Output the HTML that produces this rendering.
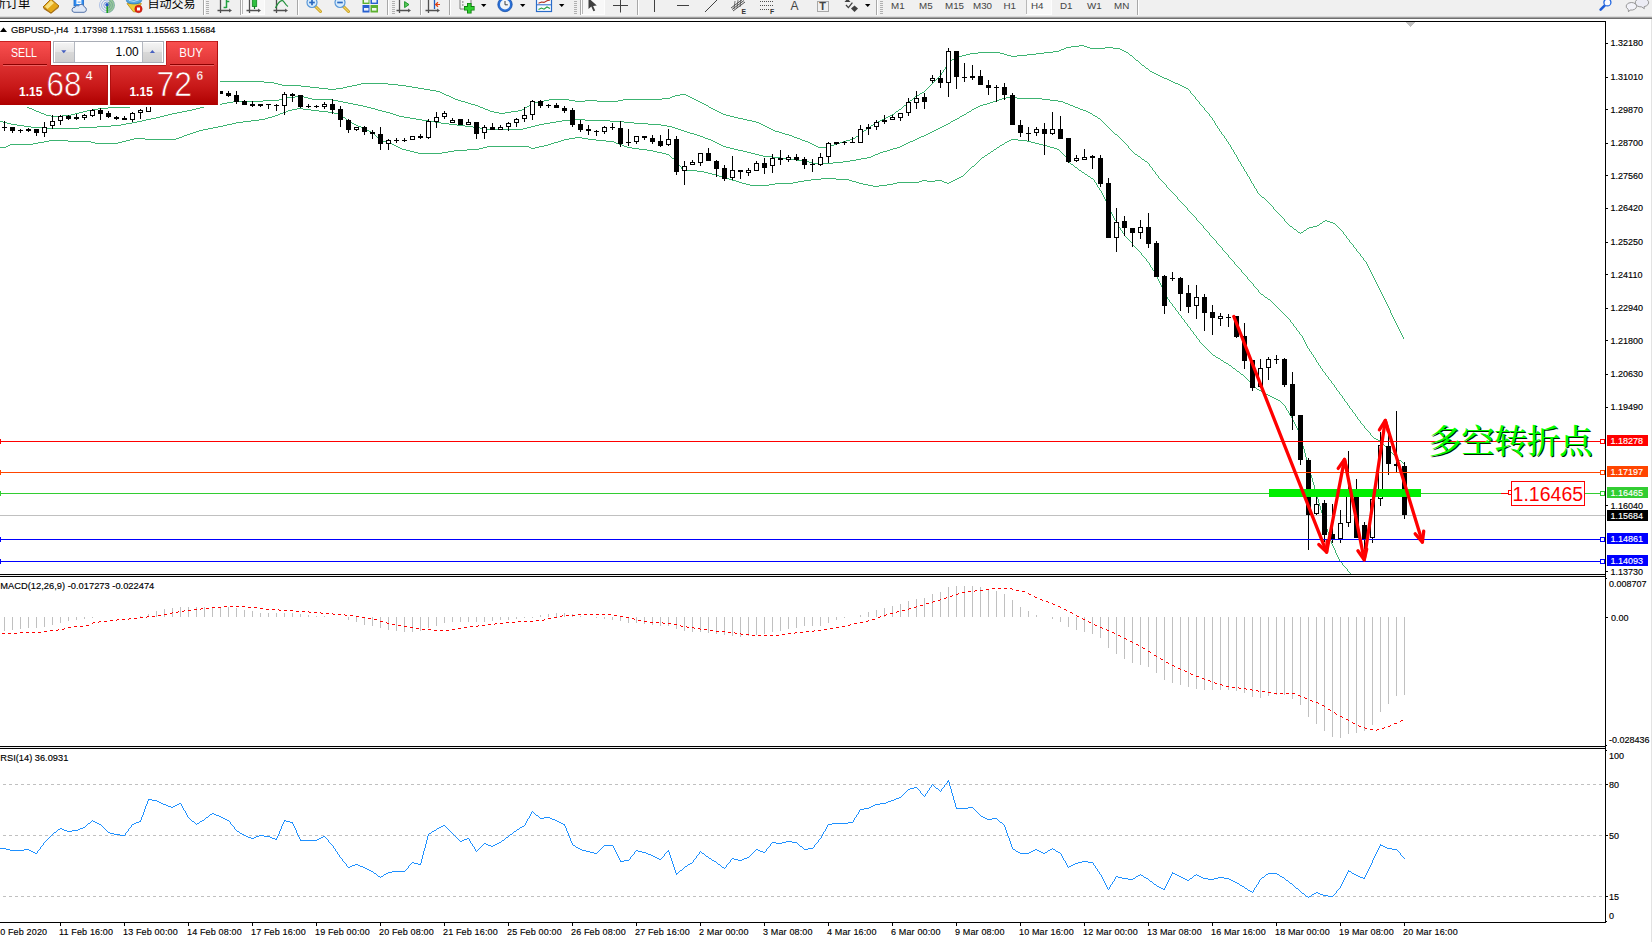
<!DOCTYPE html>
<html lang="zh"><head><meta charset="utf-8"><title>GBPUSD-,H4</title>
<style>
html,body{margin:0;padding:0;background:#fff;}
body{width:1652px;height:942px;overflow:hidden;position:relative;font-family:"Liberation Sans", sans-serif;}
svg{position:absolute;left:0;top:0;display:block}
</style></head><body>
<svg width="1652" height="942" viewBox="0 0 1652 942">
<g id="toolbar">
<g shape-rendering="crispEdges">
<rect x="0" y="0" width="1652" height="17" fill="#f0f0f0"/>
<rect x="0" y="16" width="1652" height="1" fill="#dadada"/>
<rect x="0" y="17" width="1652" height="1" fill="#a0a0a0"/>
<rect x="0" y="18" width="1652" height="1" fill="#6e6e6e"/>
<rect x="242" y="0" width="23" height="15" fill="#f8f8f8"/>
<rect x="242" y="0" width="1" height="15" fill="#b8b8b8"/>
<rect x="264" y="0" width="1" height="15" fill="#fdfdfd"/>
<rect x="242" y="14" width="23" height="1" fill="#fdfdfd"/>
<rect x="582" y="0" width="23" height="15" fill="#f8f8f8"/>
<rect x="582" y="0" width="1" height="15" fill="#b8b8b8"/>
<rect x="604" y="0" width="1" height="15" fill="#fdfdfd"/>
<rect x="582" y="14" width="23" height="1" fill="#fdfdfd"/>
<rect x="1026" y="0" width="26" height="15" fill="#f8f8f8"/>
<rect x="1026" y="0" width="1" height="15" fill="#b8b8b8"/>
<rect x="1051" y="0" width="1" height="15" fill="#fdfdfd"/>
<rect x="1026" y="14" width="26" height="1" fill="#fdfdfd"/>
<rect x="203" y="0" width="1" height="15" fill="#a8a8a8"/>
<rect x="204" y="0" width="1" height="15" fill="#ffffff"/>
<rect x="240" y="0" width="1" height="15" fill="#a8a8a8"/>
<rect x="241" y="0" width="1" height="15" fill="#ffffff"/>
<rect x="297" y="0" width="1" height="15" fill="#a8a8a8"/>
<rect x="298" y="0" width="1" height="15" fill="#ffffff"/>
<rect x="387" y="0" width="1" height="15" fill="#a8a8a8"/>
<rect x="388" y="0" width="1" height="15" fill="#ffffff"/>
<rect x="420" y="0" width="1" height="15" fill="#a8a8a8"/>
<rect x="421" y="0" width="1" height="15" fill="#ffffff"/>
<rect x="449" y="0" width="1" height="15" fill="#a8a8a8"/>
<rect x="450" y="0" width="1" height="15" fill="#ffffff"/>
<rect x="580" y="0" width="1" height="15" fill="#a8a8a8"/>
<rect x="581" y="0" width="1" height="15" fill="#ffffff"/>
<rect x="637" y="0" width="1" height="15" fill="#a8a8a8"/>
<rect x="638" y="0" width="1" height="15" fill="#ffffff"/>
<rect x="876" y="0" width="1" height="15" fill="#a8a8a8"/>
<rect x="877" y="0" width="1" height="15" fill="#ffffff"/>
<rect x="1137" y="0" width="1" height="15" fill="#a8a8a8"/>
<rect x="1138" y="0" width="1" height="15" fill="#ffffff"/>
<rect x="206" y="1" width="3" height="1" fill="#b0b0b0"/>
<rect x="206" y="3" width="3" height="1" fill="#b0b0b0"/>
<rect x="206" y="5" width="3" height="1" fill="#b0b0b0"/>
<rect x="206" y="7" width="3" height="1" fill="#b0b0b0"/>
<rect x="206" y="9" width="3" height="1" fill="#b0b0b0"/>
<rect x="206" y="11" width="3" height="1" fill="#b0b0b0"/>
<rect x="206" y="13" width="3" height="1" fill="#b0b0b0"/>
<rect x="392" y="1" width="3" height="1" fill="#b0b0b0"/>
<rect x="392" y="3" width="3" height="1" fill="#b0b0b0"/>
<rect x="392" y="5" width="3" height="1" fill="#b0b0b0"/>
<rect x="392" y="7" width="3" height="1" fill="#b0b0b0"/>
<rect x="392" y="9" width="3" height="1" fill="#b0b0b0"/>
<rect x="392" y="11" width="3" height="1" fill="#b0b0b0"/>
<rect x="392" y="13" width="3" height="1" fill="#b0b0b0"/>
<rect x="574" y="1" width="3" height="1" fill="#b0b0b0"/>
<rect x="574" y="3" width="3" height="1" fill="#b0b0b0"/>
<rect x="574" y="5" width="3" height="1" fill="#b0b0b0"/>
<rect x="574" y="7" width="3" height="1" fill="#b0b0b0"/>
<rect x="574" y="9" width="3" height="1" fill="#b0b0b0"/>
<rect x="574" y="11" width="3" height="1" fill="#b0b0b0"/>
<rect x="574" y="13" width="3" height="1" fill="#b0b0b0"/>
<rect x="880" y="1" width="3" height="1" fill="#b0b0b0"/>
<rect x="880" y="3" width="3" height="1" fill="#b0b0b0"/>
<rect x="880" y="5" width="3" height="1" fill="#b0b0b0"/>
<rect x="880" y="7" width="3" height="1" fill="#b0b0b0"/>
<rect x="880" y="9" width="3" height="1" fill="#b0b0b0"/>
<rect x="880" y="11" width="3" height="1" fill="#b0b0b0"/>
<rect x="880" y="13" width="3" height="1" fill="#b0b0b0"/>
</g>
<g font-family='"Liberation Sans", "Noto Sans CJK SC", sans-serif' fill="#000">
<text x="-6.5" y="8.2" font-size="12.3">新订单</text>
<text x="147.5" y="8.2" font-size="12">自动交易</text>
</g>
<g font-family='"Liberation Sans", "Noto Sans CJK SC", sans-serif' fill="#444" font-size="9.8">
<text x="891" y="9">M1</text>
<text x="919" y="9">M5</text>
<text x="945" y="9">M15</text>
<text x="973" y="9">M30</text>
<text x="1003.5" y="9">H1</text>
<text x="1031" y="9">H4</text>
<text x="1060" y="9">D1</text>
<text x="1087" y="9">W1</text>
<text x="1114" y="9">MN</text>
</g>
<polygon points="43,7 51,-1 59,6 51,13" fill="#e4a818" stroke="#a06c10" stroke-width="1"/>
<polygon points="45,6.5 51,0.5 54,3 47.5,9" fill="#f8e080"/>
<polygon points="43.6,7.6 51,13 59,6.2 58.4,8 51,13.8 43.6,9" fill="#a86c10"/>
<rect x="74" y="-2" width="9.6" height="8" fill="#2e8cf0" stroke="#1c68c8" stroke-width="0.8"/>
<rect x="76.4" y="-1" width="5" height="5" fill="#fff"/>
<rect x="77.6" y="1.6" width="3" height="1" fill="#4a98f0"/>
<path d="M74,12.3 h10 a2.7,2.7 0 0 0 0.4,-5.3 a3.2,3.2 0 0 0 -5.8,-1.2 a2.7,2.7 0 0 0 -3.6,1.6 a2.5,2.5 0 0 0 -1,4.9z" fill="#dfe8f6" stroke="#5674a8" stroke-width="1"/>
<g fill="none" stroke="#5a86d8"><circle cx="107" cy="5.2" r="3.2" stroke-width="1" opacity="0.75"/><circle cx="107" cy="5.2" r="5.4" stroke-width="1" opacity="0.6"/><circle cx="107" cy="5.2" r="7.5" stroke-width="1" opacity="0.45"/></g>
<path d="M107,5.2 L107,13 A7.8,7.8 0 0 0 114.8,5.2 A7.8,7.8 0 0 0 110.5,-1.7 Z" fill="#58a858" opacity="0.55"/>
<path d="M107.2,5.2 V13" stroke="#18a018" stroke-width="1.5"/>
<circle cx="107" cy="4.8" r="1.7" fill="#2858c8"/>
<path d="M127,3.6 h14.4 l-5,8.2 h-3z" fill="#f0cc38" stroke="#b88c10" stroke-width="0.8"/>
<ellipse cx="134" cy="0.6" rx="7.6" ry="3.3" fill="#58a8e0" stroke="#2a78b8" stroke-width="0.8"/>
<path d="M129,0.4 q5,2.4 10,-0.6" stroke="#b8dcf4" stroke-width="1" fill="none"/>
<circle cx="138.5" cy="9" r="3.7" fill="#e02414" stroke="#a81008" stroke-width="0.5"/>
<rect x="137" y="7.5" width="3" height="3" fill="#fff"/>
<g stroke="#505050" stroke-width="1.3" fill="none"><path d="M220.5,13 V-3 M217.5,10.5 H230"/><path d="M229,8.9 l2.5,1.6 l-2.5,1.6" fill="#505050" stroke-width="0.6"/></g>
<path d="M226.5,-2 V8 M226.5,1.5 h2.8 M223.6,7.5 h2.9" stroke="#20a040" stroke-width="1.5" fill="none"/>
<g stroke="#505050" stroke-width="1.3" fill="none"><path d="M249.5,13 V-3 M246.5,10.5 H259"/><path d="M258,8.9 l2.5,1.6 l-2.5,1.6" fill="#505050" stroke-width="0.6"/></g>
<rect x="252.3" y="-3" width="4.4" height="9.5" fill="#30c040" stroke="#108020" stroke-width="0.8"/><path d="M254.5,6 v3" stroke="#108020" stroke-width="1.2"/>
<g stroke="#505050" stroke-width="1.3" fill="none"><path d="M276.5,13 V-3 M273.5,10.5 H286"/><path d="M285,8.9 l2.5,1.6 l-2.5,1.6" fill="#505050" stroke-width="0.6"/></g>
<path d="M275.5,8 C279,1 282,-1 284,2 S287,6 288,6.5" stroke="#20903a" stroke-width="1.3" fill="none"/>
<path d="M315,6 l5.5,5.5" stroke="#c8a020" stroke-width="3" stroke-linecap="round"/>
<path d="M315,6 l5.5,5.5" stroke="#f0d060" stroke-width="1.2" stroke-linecap="round"/>
<circle cx="312" cy="2.5" r="5" fill="#d8ecfc" stroke="#5a98d8" stroke-width="1.2"/>
<path d="M309.2,2.5 h5.6" stroke="#2a68c0" stroke-width="1.7"/>
<path d="M312,-0.3 v5.6" stroke="#2a68c0" stroke-width="1.7"/>
<path d="M343,6 l5.5,5.5" stroke="#c8a020" stroke-width="3" stroke-linecap="round"/>
<path d="M343,6 l5.5,5.5" stroke="#f0d060" stroke-width="1.2" stroke-linecap="round"/>
<circle cx="340" cy="2.5" r="5" fill="#d8ecfc" stroke="#5a98d8" stroke-width="1.2"/>
<path d="M337.2,2.5 h5.6" stroke="#2a68c0" stroke-width="1.7"/>
<rect x="362.5" y="-2" width="7" height="6" fill="#5cb030"/><rect x="370.5" y="-2" width="7.5" height="6" fill="#2860d0"/>
<rect x="362.5" y="5" width="7" height="7.5" fill="#2860d0"/><rect x="370.5" y="5" width="7.5" height="7.5" fill="#5cb030"/>
<rect x="364" y="0" width="4.5" height="2.6" fill="#fff" opacity="0.92"/>
<rect x="372" y="0" width="4.5" height="2.6" fill="#fff" opacity="0.92"/>
<rect x="364" y="8" width="4.5" height="2.6" fill="#fff" opacity="0.92"/>
<rect x="372" y="8" width="4.5" height="2.6" fill="#fff" opacity="0.92"/>
<g stroke="#505050" stroke-width="1.3" fill="none"><path d="M399.5,13 V-3 M396.5,10.5 H409"/><path d="M408,8.9 l2.5,1.6 l-2.5,1.6" fill="#505050" stroke-width="0.6"/></g>
<polygon points="404.6,1.6 404.6,7.6 409,4.6" fill="#58c858" stroke="#109020" stroke-width="0.9"/>
<g stroke="#505050" stroke-width="1.3" fill="none"><path d="M428.5,13 V-3 M425.5,10.5 H438"/><path d="M437,8.9 l2.5,1.6 l-2.5,1.6" fill="#505050" stroke-width="0.6"/></g>
<path d="M434.5,-2 V9" stroke="#2060c0" stroke-width="1.3"/>
<path d="M440,4.5 h-4 M438,2.3 l-2.4,2.2 l2.4,2.2" stroke="#e04010" stroke-width="1.2" fill="none"/>
<path d="M460,-2 h9 l2,2 v9 h-11z" fill="#f4f4f4" stroke="#808080" stroke-width="1"/>
<path d="M462,2 h1.5 M462,5 h1.5" stroke="#606060" stroke-width="1"/>
<path d="M469.3,3 v10.6 M464,8.3 h10.6" stroke="#108010" stroke-width="4.6"/>
<path d="M469.3,3.8 v9 M464.8,8.3 h9" stroke="#30d030" stroke-width="2.8"/>
<polygon points="481,4 486.4,4 483.7,7" fill="#000"/>
<polygon points="520,4 525.4,4 522.7,7" fill="#000"/>
<polygon points="559,4 564.4,4 561.7,7" fill="#000"/>
<polygon points="865,4 870.4,4 867.7,7" fill="#000"/>
<circle cx="505" cy="4.5" r="7.2" fill="#2a70d8" stroke="#1850a8" stroke-width="0.8"/>
<circle cx="505" cy="4.5" r="5" fill="#f0f4f8"/>
<path d="M505,1 v3.8 h2.8" stroke="#404040" stroke-width="1" fill="none"/>
<rect x="536.5" y="-2.5" width="15" height="14" fill="#f8fbff" stroke="#2a6cc8" stroke-width="1.2"/>
<path d="M537,4.8 h14" stroke="#2a6cc8" stroke-width="1"/>
<path d="M538.5,3.2 l3,-1.2 l2.5,0.4 l3,-1.6 l3,-0.8" stroke="#b03020" stroke-width="1.1" fill="none"/>
<path d="M538.5,9.5 l3,-1.5 l2.5,1.2 l3,-2.2 l3,1.5" stroke="#20a040" stroke-width="1.1" fill="none"/>
<polygon points="588.5,-2 588.5,9 591.3,6.6 593.4,11.2 595.2,10.4 593.1,5.9 596.8,5.6" fill="#404040"/>
<path d="M620.5,-2 V12.5 M613,5.5 H628" stroke="#404040" stroke-width="1"/>
<path d="M654.5,-2 V12" stroke="#404040" stroke-width="1"/>
<path d="M677,5.5 H689" stroke="#404040" stroke-width="1"/>
<path d="M705,12 L717.5,-0.5" stroke="#404040" stroke-width="1"/>
<g stroke="#404040" stroke-width="0.9"><path d="M731,8 L743,-1 M733,11 L745,2 M732,9.5 L744,0.5"/><path d="M735,1 l-1,8 M738,0 l-1,8 M741,-1 l-1,8" stroke-width="0.7"/></g>
<text x="741.5" y="13.6" font-family='"Liberation Sans", "Noto Sans CJK SC", sans-serif' font-size="6.8" font-weight="700" fill="#333">E</text>
<g stroke="#505050" stroke-width="1" stroke-dasharray="1 1"><path d="M760,1.5 h14 M760,5.5 h14 M760,9.5 h10"/></g>
<text x="770" y="13.6" font-family='"Liberation Sans", "Noto Sans CJK SC", sans-serif' font-size="6.8" font-weight="700" fill="#333">F</text>
<text x="790.5" y="9.5" font-family='"Liberation Sans", "Noto Sans CJK SC", sans-serif' font-size="12" fill="#444">A</text>
<rect x="817.5" y="1.5" width="11" height="10" fill="none" stroke="#606060" stroke-width="1" stroke-dasharray="1 1"/>
<text x="819.3" y="10" font-family='"Liberation Sans", "Noto Sans CJK SC", sans-serif' font-size="11" font-weight="700" fill="#444">T</text>
<polygon points="844.5,2 847.5,-1.5 850.5,2" fill="#404040"/>
<path d="M846,5 l2.4,2.6 l4,-5" stroke="#404040" stroke-width="1.3" fill="none"/>
<polygon points="851,8.5 854.5,5.5 858,8.5 854.5,12" fill="#404040"/>
<path d="M1604.6,5.6 L1600.6,9.6" stroke="#1c5cd8" stroke-width="2.6" stroke-linecap="round"/>
<circle cx="1607.4" cy="2.4" r="3.5" fill="#fbfbff" stroke="#2468e0" stroke-width="1.3"/>
<path d="M1640.3,-1.6 a6.4,4.3 0 1 1 3.8,8.3 l0.2,2 l-2.6,-1.8 a6.4,4.3 0 0 1 -1.4,-8.5z" fill="#ececf4" stroke="#8c8c8c" stroke-width="0.9"/>
<path d="M1631.3,2.5 a5.3,3.8 0 1 1 -1.2,7.5 l-1.6,1.9 l-0.3,-2.6 a5.3,3.8 0 0 1 3.1,-6.8z" fill="#f2f2f8" stroke="#8c8c8c" stroke-width="0.9"/>
</g>
<g shape-rendering="crispEdges">
<rect x="0" y="21" width="1606" height="1" fill="#000"/>
<rect x="0" y="574" width="1606" height="1" fill="#000"/>
<rect x="0" y="576" width="1606" height="1" fill="#000"/>
<rect x="0" y="746" width="1606" height="1" fill="#000"/>
<rect x="0" y="748" width="1606" height="1" fill="#000"/>
<rect x="0" y="922" width="1606" height="1" fill="#000"/>
<rect x="1605" y="21" width="1" height="902" fill="#000"/>
<rect x="0" y="575" width="1605" height="1" fill="#f0f0f0"/>
<rect x="0" y="747" width="1605" height="1" fill="#f0f0f0"/>
<rect x="1651" y="19" width="1" height="923" fill="#e3e3e3"/>
<clipPath id="cm"><rect x="0" y="22" width="1605" height="552"/></clipPath>
<g clip-path="url(#cm)">
<path d="M0 79h1v1h-1zM1 80h1v1h-1zM2 81h1v1h-1zM3 82h1v1h-1zM4 83h1v1h-1zM5 84h1v1h-1zM6 85h1v2h-1zM7 87h1v1h-1zM8 88h1v1h-1zM9 89h1v1h-1zM10 90h1v1h-1zM11 91h1v1h-1zM12 92h1v1h-1zM13 93h1v1h-1zM14 94h1v1h-1zM15 95h1v1h-1zM16 96h1v1h-1zM17 97h1v1h-1zM18 98h1v1h-1zM19 99h1v2h-1zM20 101h1v1h-1zM21 102h1v1h-1zM22 103h1v1h-1zM23 104h1v1h-1zM24 105h1v1h-1zM25 106h2v1h-2zM27 107h2v1h-2zM29 108h3v1h-3zM32 109h2v1h-2zM34 110h2v1h-2zM36 111h3v1h-3zM39 112h2v1h-2zM41 113h3v1h-3zM44 114h2v1h-2zM46 115h5v1h-5zM51 116h11v1h-11zM62 115h9v1h-9zM71 114h4v1h-4zM75 113h4v1h-4zM79 112h4v1h-4zM83 111h4v1h-4zM87 110h5v1h-5zM92 109h6v1h-6zM98 108h10v1h-10zM108 107h22v1h-22zM130 106h2v1h-2zM132 105h3v1h-3zM135 104h2v1h-2zM137 103h3v1h-3zM140 102h2v1h-2zM142 101h3v1h-3zM145 100h2v1h-2zM147 99h3v1h-3zM150 98h2v1h-2zM152 97h3v1h-3zM155 96h3v1h-3zM158 95h3v1h-3zM161 94h3v1h-3zM164 93h3v1h-3zM167 92h3v1h-3zM170 91h3v1h-3zM173 90h2v1h-2zM175 89h3v1h-3zM178 88h3v1h-3zM181 87h3v1h-3zM184 86h3v1h-3zM187 85h3v1h-3zM190 84h3v1h-3zM193 83h8v1h-8zM201 82h13v1h-13zM214 81h50v1h-50zM264 82h10v1h-10zM274 83h4v1h-4zM278 84h4v1h-4zM282 85h19v1h-19zM301 86h9v1h-9zM310 87h9v1h-9zM319 88h9v1h-9zM328 89h8v1h-8zM336 88h7v1h-7zM343 87h4v1h-4zM347 86h5v1h-5zM352 85h5v1h-5zM357 84h4v1h-4zM361 83h27v1h-27zM388 84h10v1h-10zM398 85h8v1h-8zM406 86h6v1h-6zM412 87h6v1h-6zM418 88h6v1h-6zM424 89h6v1h-6zM430 90h6v1h-6zM436 91h4v1h-4zM440 92h2v1h-2zM442 93h2v1h-2zM444 94h2v1h-2zM446 95h3v1h-3zM449 96h2v1h-2zM451 97h2v1h-2zM453 98h2v1h-2zM455 99h3v1h-3zM458 100h3v1h-3zM461 101h4v1h-4zM465 102h3v1h-3zM468 103h3v1h-3zM471 104h4v1h-4zM475 105h3v1h-3zM478 106h2v1h-2zM480 107h3v1h-3zM483 108h2v1h-2zM485 109h3v1h-3zM488 110h2v1h-2zM490 111h4v1h-4zM494 112h5v1h-5zM499 113h6v1h-6zM505 112h6v1h-6zM511 111h7v1h-7zM518 110h4v1h-4zM522 109h2v1h-2zM524 108h1v1h-1zM525 107h2v1h-2zM527 106h2v1h-2zM529 105h1v1h-1zM530 104h2v1h-2zM532 103h3v1h-3zM535 102h4v1h-4zM539 101h5v1h-5zM544 100h5v1h-5zM549 99h20v1h-20zM569 100h6v1h-6zM575 101h10v1h-10zM585 100h12v1h-12zM597 101h21v1h-21zM618 100h5v1h-5zM623 99h39v1h-39zM662 98h8v1h-8zM670 97h2v1h-2zM672 96h3v1h-3zM675 95h5v1h-5zM680 94h6v1h-6zM686 95h2v1h-2zM688 96h2v1h-2zM690 97h2v1h-2zM692 98h2v1h-2zM694 99h2v1h-2zM696 100h2v1h-2zM698 101h2v1h-2zM700 102h2v1h-2zM702 103h2v1h-2zM704 104h2v1h-2zM706 105h2v1h-2zM708 106h1v1h-1zM709 107h2v1h-2zM711 108h2v1h-2zM713 109h2v1h-2zM715 110h2v1h-2zM717 111h2v1h-2zM719 112h2v1h-2zM721 113h2v1h-2zM723 114h3v1h-3zM726 115h4v1h-4zM730 116h4v1h-4zM734 117h4v1h-4zM738 118h5v1h-5zM743 119h4v1h-4zM747 120h5v1h-5zM752 121h4v1h-4zM756 122h3v1h-3zM759 123h2v1h-2zM761 124h2v1h-2zM763 125h2v1h-2zM765 126h2v1h-2zM767 127h2v1h-2zM769 128h2v1h-2zM771 129h2v1h-2zM773 130h2v1h-2zM775 131h4v1h-4zM779 132h3v1h-3zM782 133h3v1h-3zM785 134h4v1h-4zM789 135h3v1h-3zM792 136h2v1h-2zM794 137h3v1h-3zM797 138h3v1h-3zM800 139h2v1h-2zM802 140h3v1h-3zM805 141h3v1h-3zM808 142h2v1h-2zM810 143h2v1h-2zM812 144h2v1h-2zM814 145h2v1h-2zM816 146h2v1h-2zM818 147h9v1h-9zM827 146h3v1h-3zM830 145h4v1h-4zM834 144h3v1h-3zM837 143h3v1h-3zM840 142h3v1h-3zM843 141h3v1h-3zM846 140h4v1h-4zM850 139h3v1h-3zM853 138h2v1h-2zM855 137h1v1h-1zM856 136h2v1h-2zM858 135h1v1h-1zM859 134h1v1h-1zM860 133h2v1h-2zM862 132h1v1h-1zM863 131h1v1h-1zM864 130h2v1h-2zM866 129h1v1h-1zM867 128h2v1h-2zM869 127h1v1h-1zM870 126h1v1h-1zM871 125h2v1h-2zM873 124h1v1h-1zM874 123h2v1h-2zM876 122h2v1h-2zM878 121h2v1h-2zM880 120h2v1h-2zM882 119h2v1h-2zM884 118h2v1h-2zM886 117h2v1h-2zM888 116h2v1h-2zM890 115h2v1h-2zM892 114h2v1h-2zM894 113h1v1h-1zM895 112h1v1h-1zM896 111h2v1h-2zM898 110h1v1h-1zM899 109h2v1h-2zM901 108h1v1h-1zM902 107h1v1h-1zM903 106h1v1h-1zM904 105h2v1h-2zM906 104h1v1h-1zM907 103h1v1h-1zM908 102h1v1h-1zM909 101h1v1h-1zM910 100h2v1h-2zM912 99h1v1h-1zM913 98h1v1h-1zM914 97h1v1h-1zM915 96h2v1h-2zM917 95h2v1h-2zM919 94h1v1h-1zM920 93h2v1h-2zM922 92h2v1h-2zM924 91h1v1h-1zM925 90h1v1h-1zM926 89h1v1h-1zM927 88h1v1h-1zM928 87h1v1h-1zM929 86h1v1h-1zM930 85h1v1h-1zM931 84h1v1h-1zM932 83h1v1h-1zM933 82h1v1h-1zM934 81h1v1h-1zM935 80h1v1h-1zM936 79h1v1h-1zM937 78h1v1h-1zM938 77h1v1h-1zM939 76h1v1h-1zM940 75h1v1h-1zM941 73h1v2h-1zM942 72h1v1h-1zM943 70h1v2h-1zM944 69h1v1h-1zM945 67h1v2h-1zM946 66h1v1h-1zM947 65h1v1h-1zM948 64h1v1h-1zM949 62h1v2h-1zM950 61h1v1h-1zM951 60h1v1h-1zM952 59h2v1h-2zM954 58h3v1h-3zM957 57h2v1h-2zM959 56h3v1h-3zM962 55h4v1h-4zM966 54h4v1h-4zM970 53h8v1h-8zM978 52h22v1h-22zM1000 53h4v1h-4zM1004 54h3v1h-3zM1007 55h4v1h-4zM1011 56h6v1h-6zM1017 55h10v1h-10zM1027 54h9v1h-9zM1036 53h8v1h-8zM1044 52h9v1h-9zM1053 51h6v1h-6zM1059 50h2v1h-2zM1061 49h3v1h-3zM1064 48h2v1h-2zM1066 47h5v1h-5zM1071 46h8v1h-8zM1079 45h5v1h-5zM1084 46h3v1h-3zM1087 47h3v1h-3zM1090 48h15v1h-15zM1105 47h8v1h-8zM1113 48h7v1h-7zM1120 49h2v1h-2zM1122 50h2v1h-2zM1124 51h2v1h-2zM1126 52h2v1h-2zM1128 53h1v1h-1zM1129 54h1v1h-1zM1130 55h2v1h-2zM1132 56h1v1h-1zM1133 57h1v1h-1zM1134 58h1v1h-1zM1135 59h1v1h-1zM1136 60h2v1h-2zM1138 61h1v1h-1zM1139 62h1v1h-1zM1140 63h1v1h-1zM1141 64h1v1h-1zM1142 65h2v1h-2zM1144 66h1v1h-1zM1145 67h1v1h-1zM1146 68h2v1h-2zM1148 69h1v1h-1zM1149 70h1v1h-1zM1150 71h2v1h-2zM1152 72h2v1h-2zM1154 73h2v1h-2zM1156 74h2v1h-2zM1158 75h2v1h-2zM1160 76h2v1h-2zM1162 77h2v1h-2zM1164 78h3v1h-3zM1167 79h2v1h-2zM1169 80h2v1h-2zM1171 81h2v1h-2zM1173 82h2v1h-2zM1175 83h3v1h-3zM1178 84h2v1h-2zM1180 85h2v1h-2zM1182 86h2v1h-2zM1184 87h2v1h-2zM1186 88h2v1h-2zM1188 89h1v1h-1zM1189 90h1v1h-1zM1190 91h1v2h-1zM1191 93h1v1h-1zM1192 94h1v1h-1zM1193 95h1v1h-1zM1194 96h1v1h-1zM1195 97h1v2h-1zM1196 99h1v1h-1zM1197 100h1v1h-1zM1198 101h1v1h-1zM1199 102h1v2h-1zM1200 104h1v1h-1zM1201 105h1v1h-1zM1202 106h1v1h-1zM1203 107h1v1h-1zM1204 108h1v2h-1zM1205 110h1v1h-1zM1206 111h1v1h-1zM1207 112h1v1h-1zM1208 113h1v1h-1zM1209 114h1v2h-1zM1210 116h1v1h-1zM1211 117h1v1h-1zM1212 118h1v2h-1zM1213 120h1v1h-1zM1214 121h1v2h-1zM1215 123h1v2h-1zM1216 125h1v1h-1zM1217 126h1v2h-1zM1218 128h1v1h-1zM1219 129h1v2h-1zM1220 131h1v1h-1zM1221 132h1v2h-1zM1222 134h1v1h-1zM1223 135h1v1h-1zM1224 136h1v2h-1zM1225 138h1v1h-1zM1226 139h1v2h-1zM1227 141h1v1h-1zM1228 142h1v2h-1zM1229 144h1v1h-1zM1230 145h1v2h-1zM1231 147h1v2h-1zM1232 149h1v1h-1zM1233 150h1v2h-1zM1234 152h1v2h-1zM1235 154h1v1h-1zM1236 155h1v2h-1zM1237 157h1v2h-1zM1238 159h1v2h-1zM1239 161h1v1h-1zM1240 162h1v2h-1zM1241 164h1v2h-1zM1242 166h1v1h-1zM1243 167h1v2h-1zM1244 169h1v2h-1zM1245 171h1v1h-1zM1246 172h1v2h-1zM1247 174h1v2h-1zM1248 176h1v1h-1zM1249 177h1v2h-1zM1250 179h1v2h-1zM1251 181h1v2h-1zM1252 183h1v1h-1zM1253 184h1v2h-1zM1254 186h1v2h-1zM1255 188h1v1h-1zM1256 189h1v2h-1zM1257 191h1v2h-1zM1258 193h1v1h-1zM1259 194h1v1h-1zM1260 195h1v1h-1zM1261 196h1v1h-1zM1262 197h2v1h-2zM1264 198h1v1h-1zM1265 199h1v1h-1zM1266 200h1v1h-1zM1267 201h1v1h-1zM1268 202h1v1h-1zM1269 203h1v1h-1zM1270 204h1v1h-1zM1271 205h1v1h-1zM1272 206h1v1h-1zM1273 207h1v2h-1zM1274 209h1v1h-1zM1275 210h1v1h-1zM1276 211h1v1h-1zM1277 212h1v1h-1zM1278 213h1v1h-1zM1279 214h1v1h-1zM1280 215h1v1h-1zM1281 216h1v1h-1zM1282 217h1v1h-1zM1283 218h1v1h-1zM1284 219h1v2h-1zM1285 221h1v1h-1zM1286 222h1v1h-1zM1287 223h1v1h-1zM1288 224h1v1h-1zM1289 225h1v1h-1zM1290 226h2v1h-2zM1292 227h1v1h-1zM1293 228h1v1h-1zM1294 229h2v1h-2zM1296 230h1v1h-1zM1297 231h1v1h-1zM1298 232h2v1h-2zM1300 233h1v1h-1zM1301 232h2v1h-2zM1303 231h1v1h-1zM1304 230h2v1h-2zM1306 229h1v1h-1zM1307 228h2v1h-2zM1309 227h4v1h-4zM1313 226h4v1h-4zM1317 225h2v1h-2zM1319 224h1v1h-1zM1320 223h2v1h-2zM1322 222h1v1h-1zM1323 221h2v1h-2zM1325 220h2v1h-2zM1327 221h3v1h-3zM1330 222h3v1h-3zM1333 223h2v1h-2zM1335 224h1v1h-1zM1336 225h1v1h-1zM1337 226h1v1h-1zM1338 227h1v1h-1zM1339 228h1v1h-1zM1340 229h1v1h-1zM1341 230h1v1h-1zM1342 231h1v1h-1zM1343 232h1v2h-1zM1344 234h1v1h-1zM1345 235h1v1h-1zM1346 236h1v2h-1zM1347 238h1v1h-1zM1348 239h1v1h-1zM1349 240h1v2h-1zM1350 242h1v1h-1zM1351 243h1v1h-1zM1352 244h1v1h-1zM1353 245h1v2h-1zM1354 247h1v1h-1zM1355 248h1v1h-1zM1356 249h1v2h-1zM1357 251h1v1h-1zM1358 252h1v1h-1zM1359 253h1v1h-1zM1360 254h1v2h-1zM1361 256h1v1h-1zM1362 257h1v1h-1zM1363 258h1v2h-1zM1364 260h1v1h-1zM1365 261h1v1h-1zM1366 262h1v2h-1zM1367 264h1v2h-1zM1368 266h1v2h-1zM1369 268h1v2h-1zM1370 270h1v2h-1zM1371 272h1v2h-1zM1372 274h1v2h-1zM1373 276h1v2h-1zM1374 278h1v2h-1zM1375 280h1v2h-1zM1376 282h1v2h-1zM1377 284h1v2h-1zM1378 286h1v2h-1zM1379 288h1v2h-1zM1380 290h1v2h-1zM1381 292h1v2h-1zM1382 294h1v2h-1zM1383 296h1v2h-1zM1384 298h1v2h-1zM1385 300h1v2h-1zM1386 302h1v2h-1zM1387 304h1v2h-1zM1388 306h1v2h-1zM1389 308h1v2h-1zM1390 310h1v3h-1zM1391 313h1v2h-1zM1392 315h1v2h-1zM1393 317h1v2h-1zM1394 319h1v2h-1zM1395 321h1v2h-1zM1396 323h1v2h-1zM1397 325h1v2h-1zM1398 327h1v2h-1zM1399 329h1v2h-1zM1400 331h1v2h-1zM1401 333h1v2h-1zM1402 335h1v2h-1zM1403 337h1v2h-1z" fill="#3cb371" />
<path d="M0 121h3v1h-3zM3 122h4v1h-4zM7 123h4v1h-4zM11 124h6v1h-6zM17 125h7v1h-7zM24 126h7v1h-7zM31 127h12v1h-12zM43 128h36v1h-36zM79 127h18v1h-18zM97 126h14v1h-14zM111 125h10v1h-10zM121 124h5v1h-5zM126 123h6v1h-6zM132 122h5v1h-5zM137 121h5v1h-5zM142 120h4v1h-4zM146 119h5v1h-5zM151 118h5v1h-5zM156 117h4v1h-4zM160 116h4v1h-4zM164 115h4v1h-4zM168 114h4v1h-4zM172 113h5v1h-5zM177 112h5v1h-5zM182 111h5v1h-5zM187 110h5v1h-5zM192 109h4v1h-4zM196 108h4v1h-4zM200 107h4v1h-4zM204 106h6v1h-6zM210 105h6v1h-6zM216 104h6v1h-6zM222 103h5v1h-5zM227 102h6v1h-6zM233 101h30v1h-30zM263 100h16v1h-16zM279 99h4v1h-4zM283 98h4v1h-4zM287 97h8v1h-8zM295 96h9v1h-9zM304 97h4v1h-4zM308 98h4v1h-4zM312 99h20v1h-20zM332 100h6v1h-6zM338 101h5v1h-5zM343 102h5v1h-5zM348 103h5v1h-5zM353 104h5v1h-5zM358 105h5v1h-5zM363 106h4v1h-4zM367 107h4v1h-4zM371 108h4v1h-4zM375 109h3v1h-3zM378 110h4v1h-4zM382 111h4v1h-4zM386 112h4v1h-4zM390 113h3v1h-3zM393 114h3v1h-3zM396 115h3v1h-3zM399 116h5v1h-5zM404 117h6v1h-6zM410 118h6v1h-6zM416 119h6v1h-6zM422 120h7v1h-7zM429 121h6v1h-6zM435 122h6v1h-6zM441 123h8v1h-8zM449 124h8v1h-8zM457 125h8v1h-8zM465 126h8v1h-8zM473 127h7v1h-7zM480 128h6v1h-6zM486 129h37v1h-37zM523 128h4v1h-4zM527 127h4v1h-4zM531 126h4v1h-4zM535 125h4v1h-4zM539 124h5v1h-5zM544 123h6v1h-6zM550 122h6v1h-6zM556 121h6v1h-6zM562 120h10v1h-10zM572 119h13v1h-13zM585 120h25v1h-25zM610 121h14v1h-14zM624 122h10v1h-10zM634 123h14v1h-14zM648 124h13v1h-13zM661 125h6v1h-6zM667 126h5v1h-5zM672 127h3v1h-3zM675 128h3v1h-3zM678 129h3v1h-3zM681 130h3v1h-3zM684 131h3v1h-3zM687 132h3v1h-3zM690 133h4v1h-4zM694 134h3v1h-3zM697 135h3v1h-3zM700 136h3v1h-3zM703 137h2v1h-2zM705 138h3v1h-3zM708 139h3v1h-3zM711 140h2v1h-2zM713 141h2v1h-2zM715 142h2v1h-2zM717 143h2v1h-2zM719 144h2v1h-2zM721 145h2v1h-2zM723 146h3v1h-3zM726 147h4v1h-4zM730 148h4v1h-4zM734 149h4v1h-4zM738 150h5v1h-5zM743 151h4v1h-4zM747 152h4v1h-4zM751 153h4v1h-4zM755 154h4v1h-4zM759 155h4v1h-4zM763 156h9v1h-9zM772 157h9v1h-9zM781 158h6v1h-6zM787 159h9v1h-9zM796 160h9v1h-9zM805 161h4v1h-4zM809 162h4v1h-4zM813 163h20v1h-20zM833 162h10v1h-10zM843 161h7v1h-7zM850 160h6v1h-6zM856 159h5v1h-5zM861 158h6v1h-6zM867 157h4v1h-4zM871 156h2v1h-2zM873 155h2v1h-2zM875 154h3v1h-3zM878 153h2v1h-2zM880 152h3v1h-3zM883 151h4v1h-4zM887 150h3v1h-3zM890 149h3v1h-3zM893 148h4v1h-4zM897 147h3v1h-3zM900 146h2v1h-2zM902 145h2v1h-2zM904 144h2v1h-2zM906 143h2v1h-2zM908 142h2v1h-2zM910 141h3v1h-3zM913 140h2v1h-2zM915 139h2v1h-2zM917 138h2v1h-2zM919 137h2v1h-2zM921 136h3v1h-3zM924 135h2v1h-2zM926 134h2v1h-2zM928 133h2v1h-2zM930 132h2v1h-2zM932 131h2v1h-2zM934 130h2v1h-2zM936 129h2v1h-2zM938 128h2v1h-2zM940 127h2v1h-2zM942 126h2v1h-2zM944 125h2v1h-2zM946 124h2v1h-2zM948 123h2v1h-2zM950 122h1v1h-1zM951 121h2v1h-2zM953 120h2v1h-2zM955 119h2v1h-2zM957 118h2v1h-2zM959 117h1v1h-1zM960 116h2v1h-2zM962 115h2v1h-2zM964 114h2v1h-2zM966 113h1v1h-1zM967 112h2v1h-2zM969 111h2v1h-2zM971 110h1v1h-1zM972 109h2v1h-2zM974 108h2v1h-2zM976 107h2v1h-2zM978 106h2v1h-2zM980 105h3v1h-3zM983 104h4v1h-4zM987 103h3v1h-3zM990 102h3v1h-3zM993 101h3v1h-3zM996 100h3v1h-3zM999 99h3v1h-3zM1002 98h4v1h-4zM1006 97h4v1h-4zM1010 96h3v1h-3zM1013 97h4v1h-4zM1017 98h25v1h-25zM1042 99h8v1h-8zM1050 100h8v1h-8zM1058 101h5v1h-5zM1063 102h2v1h-2zM1065 103h3v1h-3zM1068 104h2v1h-2zM1070 105h3v1h-3zM1073 106h2v1h-2zM1075 107h3v1h-3zM1078 108h2v1h-2zM1080 109h3v1h-3zM1083 110h3v1h-3zM1086 111h2v1h-2zM1088 112h2v1h-2zM1090 113h2v1h-2zM1092 114h1v1h-1zM1093 115h2v1h-2zM1095 116h2v1h-2zM1097 117h1v1h-1zM1098 118h2v1h-2zM1100 119h1v1h-1zM1101 120h1v1h-1zM1102 121h1v1h-1zM1103 122h1v1h-1zM1104 123h1v1h-1zM1105 124h1v1h-1zM1106 125h1v1h-1zM1107 126h1v1h-1zM1108 127h1v1h-1zM1109 128h1v1h-1zM1110 129h1v1h-1zM1111 130h1v1h-1zM1112 131h1v1h-1zM1113 132h1v1h-1zM1114 133h1v1h-1zM1115 134h2v1h-2zM1117 135h1v1h-1zM1118 136h1v1h-1zM1119 137h1v1h-1zM1120 138h1v1h-1zM1121 139h1v1h-1zM1122 140h1v1h-1zM1123 141h1v1h-1zM1124 142h1v1h-1zM1125 143h1v1h-1zM1126 144h1v1h-1zM1127 145h1v1h-1zM1128 146h1v2h-1zM1129 148h1v1h-1zM1130 149h1v1h-1zM1131 150h1v1h-1zM1132 151h1v1h-1zM1133 152h1v1h-1zM1134 153h1v1h-1zM1135 154h2v1h-2zM1137 155h1v1h-1zM1138 156h2v1h-2zM1140 157h1v1h-1zM1141 158h1v1h-1zM1142 159h2v1h-2zM1144 160h1v1h-1zM1145 161h2v1h-2zM1147 162h1v1h-1zM1148 163h1v1h-1zM1149 164h1v2h-1zM1150 166h1v1h-1zM1151 167h1v1h-1zM1152 168h1v2h-1zM1153 170h1v1h-1zM1154 171h1v1h-1zM1155 172h1v2h-1zM1156 174h1v1h-1zM1157 175h1v1h-1zM1158 176h1v2h-1zM1159 178h1v1h-1zM1160 179h1v1h-1zM1161 180h1v1h-1zM1162 181h1v1h-1zM1163 182h1v1h-1zM1164 183h1v1h-1zM1165 184h1v1h-1zM1166 185h1v2h-1zM1167 187h1v1h-1zM1168 188h1v1h-1zM1169 189h1v1h-1zM1170 190h1v1h-1zM1171 191h1v1h-1zM1172 192h1v1h-1zM1173 193h1v1h-1zM1174 194h1v1h-1zM1175 195h1v1h-1zM1176 196h1v1h-1zM1177 197h1v2h-1zM1178 199h1v1h-1zM1179 200h1v1h-1zM1180 201h1v1h-1zM1181 202h1v1h-1zM1182 203h1v1h-1zM1183 204h1v1h-1zM1184 205h1v1h-1zM1185 206h1v1h-1zM1186 207h1v1h-1zM1187 208h1v2h-1zM1188 210h1v1h-1zM1189 211h1v1h-1zM1190 212h1v1h-1zM1191 213h1v1h-1zM1192 214h1v1h-1zM1193 215h1v1h-1zM1194 216h1v1h-1zM1195 217h1v1h-1zM1196 218h1v2h-1zM1197 220h1v1h-1zM1198 221h1v1h-1zM1199 222h1v1h-1zM1200 223h1v1h-1zM1201 224h1v1h-1zM1202 225h1v1h-1zM1203 226h1v2h-1zM1204 228h1v1h-1zM1205 229h1v1h-1zM1206 230h1v1h-1zM1207 231h1v1h-1zM1208 232h1v1h-1zM1209 233h1v2h-1zM1210 235h1v1h-1zM1211 236h1v1h-1zM1212 237h1v1h-1zM1213 238h1v1h-1zM1214 239h1v1h-1zM1215 240h1v1h-1zM1216 241h1v2h-1zM1217 243h1v1h-1zM1218 244h1v1h-1zM1219 245h1v1h-1zM1220 246h1v1h-1zM1221 247h1v1h-1zM1222 248h1v2h-1zM1223 250h1v1h-1zM1224 251h1v1h-1zM1225 252h1v1h-1zM1226 253h1v1h-1zM1227 254h1v1h-1zM1228 255h1v2h-1zM1229 257h1v1h-1zM1230 258h1v1h-1zM1231 259h1v1h-1zM1232 260h1v1h-1zM1233 261h1v1h-1zM1234 262h1v2h-1zM1235 264h1v1h-1zM1236 265h1v1h-1zM1237 266h1v1h-1zM1238 267h1v1h-1zM1239 268h1v1h-1zM1240 269h1v1h-1zM1241 270h1v2h-1zM1242 272h1v1h-1zM1243 273h1v1h-1zM1244 274h1v1h-1zM1245 275h1v1h-1zM1246 276h1v1h-1zM1247 277h1v2h-1zM1248 279h1v1h-1zM1249 280h1v1h-1zM1250 281h1v1h-1zM1251 282h1v1h-1zM1252 283h1v1h-1zM1253 284h1v2h-1zM1254 286h1v1h-1zM1255 287h1v1h-1zM1256 288h1v1h-1zM1257 289h1v1h-1zM1258 290h1v2h-1zM1259 292h1v1h-1zM1260 293h1v1h-1zM1261 294h2v1h-2zM1263 295h1v1h-1zM1264 296h1v1h-1zM1265 297h2v1h-2zM1267 298h1v1h-1zM1268 299h2v1h-2zM1270 300h1v1h-1zM1271 301h1v1h-1zM1272 302h1v1h-1zM1273 303h1v1h-1zM1274 304h1v1h-1zM1275 305h1v1h-1zM1276 306h1v1h-1zM1277 307h1v1h-1zM1278 308h1v1h-1zM1279 309h1v1h-1zM1280 310h1v1h-1zM1281 311h1v1h-1zM1282 312h1v1h-1zM1283 313h1v1h-1zM1284 314h1v1h-1zM1285 315h1v1h-1zM1286 316h1v1h-1zM1287 317h1v1h-1zM1288 318h1v1h-1zM1289 319h1v1h-1zM1290 320h1v2h-1zM1291 322h1v1h-1zM1292 323h1v1h-1zM1293 324h1v2h-1zM1294 326h1v1h-1zM1295 327h1v1h-1zM1296 328h1v2h-1zM1297 330h1v1h-1zM1298 331h1v1h-1zM1299 332h1v2h-1zM1300 334h1v1h-1zM1301 335h1v1h-1zM1302 336h1v2h-1zM1303 338h1v2h-1zM1304 340h1v2h-1zM1305 342h1v2h-1zM1306 344h1v2h-1zM1307 346h1v2h-1zM1308 348h1v1h-1zM1309 349h1v2h-1zM1310 351h1v1h-1zM1311 352h1v2h-1zM1312 354h1v1h-1zM1313 355h1v2h-1zM1314 357h1v1h-1zM1315 358h1v2h-1zM1316 360h1v2h-1zM1317 362h1v1h-1zM1318 363h1v2h-1zM1319 365h1v1h-1zM1320 366h1v2h-1zM1321 368h1v1h-1zM1322 369h1v2h-1zM1323 371h1v1h-1zM1324 372h1v1h-1zM1325 373h1v2h-1zM1326 375h1v1h-1zM1327 376h1v1h-1zM1328 377h1v2h-1zM1329 379h1v1h-1zM1330 380h1v1h-1zM1331 381h1v2h-1zM1332 383h1v1h-1zM1333 384h1v1h-1zM1334 385h1v2h-1zM1335 387h1v1h-1zM1336 388h1v2h-1zM1337 390h1v1h-1zM1338 391h1v1h-1zM1339 392h1v2h-1zM1340 394h1v1h-1zM1341 395h1v1h-1zM1342 396h1v2h-1zM1343 398h1v1h-1zM1344 399h1v2h-1zM1345 401h1v1h-1zM1346 402h1v1h-1zM1347 403h1v2h-1zM1348 405h1v1h-1zM1349 406h1v2h-1zM1350 408h1v1h-1zM1351 409h1v1h-1zM1352 410h1v2h-1zM1353 412h1v1h-1zM1354 413h1v1h-1zM1355 414h1v2h-1zM1356 416h1v1h-1zM1357 417h1v2h-1zM1358 419h1v1h-1zM1359 420h1v1h-1zM1360 421h1v2h-1zM1361 423h1v1h-1zM1362 424h1v1h-1zM1363 425h1v1h-1zM1364 426h1v2h-1zM1365 428h1v1h-1zM1366 429h1v1h-1zM1367 430h1v1h-1zM1368 431h1v1h-1zM1369 432h1v1h-1zM1370 433h1v2h-1zM1371 435h1v1h-1zM1372 436h1v1h-1zM1373 437h1v1h-1zM1374 438h2v1h-2zM1376 439h2v1h-2zM1378 440h2v1h-2zM1380 441h1v1h-1zM1381 442h1v1h-1zM1382 443h1v1h-1zM1383 444h1v1h-1zM1384 445h1v1h-1zM1385 446h1v1h-1zM1386 447h1v1h-1zM1387 448h1v1h-1zM1388 449h1v1h-1zM1389 450h1v1h-1zM1390 451h1v1h-1zM1391 452h1v1h-1zM1392 453h1v1h-1zM1393 454h1v1h-1zM1394 455h1v1h-1zM1395 456h1v1h-1zM1396 457h1v1h-1zM1397 458h1v1h-1zM1398 459h1v1h-1zM1399 460h2v1h-2zM1401 461h1v1h-1zM1402 462h1v1h-1zM1403 463h1v1h-1zM1404 464h1v1h-1z" fill="#3cb371" />
<path d="M0 147h6v1h-6zM6 146h2v1h-2zM8 145h2v1h-2zM10 144h23v1h-23zM33 143h5v1h-5zM38 142h6v1h-6zM44 141h5v1h-5zM49 140h19v1h-19zM68 141h23v1h-23zM91 142h4v1h-4zM95 143h23v1h-23zM118 142h4v1h-4zM122 141h4v1h-4zM126 140h4v1h-4zM130 139h4v1h-4zM134 138h11v1h-11zM145 139h31v1h-31zM176 138h3v1h-3zM179 137h3v1h-3zM182 136h2v1h-2zM184 135h3v1h-3zM187 134h3v1h-3zM190 133h3v1h-3zM193 132h3v1h-3zM196 131h3v1h-3zM199 130h4v1h-4zM203 129h5v1h-5zM208 128h5v1h-5zM213 127h5v1h-5zM218 126h5v1h-5zM223 125h4v1h-4zM227 124h5v1h-5zM232 123h4v1h-4zM236 122h7v1h-7zM243 121h8v1h-8zM251 120h8v1h-8zM259 119h6v1h-6zM265 118h3v1h-3zM268 117h4v1h-4zM272 116h3v1h-3zM275 115h3v1h-3zM278 114h2v1h-2zM280 113h3v1h-3zM283 112h3v1h-3zM286 111h2v1h-2zM288 110h4v1h-4zM292 109h5v1h-5zM297 108h6v1h-6zM303 109h8v1h-8zM311 110h8v1h-8zM319 111h9v1h-9zM328 112h6v1h-6zM334 113h4v1h-4zM338 114h3v1h-3zM341 115h1v1h-1zM342 116h1v1h-1zM343 117h2v1h-2zM345 118h1v1h-1zM346 119h1v1h-1zM347 120h1v1h-1zM348 121h2v1h-2zM350 122h2v1h-2zM352 123h2v1h-2zM354 124h2v1h-2zM356 125h2v1h-2zM358 126h3v1h-3zM361 127h2v1h-2zM363 128h2v1h-2zM365 129h2v1h-2zM367 130h2v1h-2zM369 131h2v1h-2zM371 132h2v1h-2zM373 133h1v1h-1zM374 134h1v1h-1zM375 135h1v1h-1zM376 136h1v1h-1zM377 137h1v1h-1zM378 138h1v1h-1zM379 139h1v1h-1zM380 140h2v1h-2zM382 141h4v1h-4zM386 142h4v1h-4zM390 143h2v1h-2zM392 144h2v1h-2zM394 145h2v1h-2zM396 146h2v1h-2zM398 147h2v1h-2zM400 148h2v1h-2zM402 149h4v1h-4zM406 150h4v1h-4zM410 151h4v1h-4zM414 152h4v1h-4zM418 153h24v1h-24zM442 152h6v1h-6zM448 151h6v1h-6zM454 150h13v1h-13zM467 149h12v1h-12zM479 148h4v1h-4zM483 147h4v1h-4zM487 146h42v1h-42zM529 147h2v1h-2zM531 148h4v1h-4zM535 147h4v1h-4zM539 146h5v1h-5zM544 145h4v1h-4zM548 144h3v1h-3zM551 143h3v1h-3zM554 142h4v1h-4zM558 141h3v1h-3zM561 140h3v1h-3zM564 139h5v1h-5zM569 138h6v1h-6zM575 137h7v1h-7zM582 138h6v1h-6zM588 139h8v1h-8zM596 140h10v1h-10zM606 141h8v1h-8zM614 142h2v1h-2zM616 143h3v1h-3zM619 144h3v1h-3zM622 145h2v1h-2zM624 146h3v1h-3zM627 147h5v1h-5zM632 148h7v1h-7zM639 149h8v1h-8zM647 150h6v1h-6zM653 151h4v1h-4zM657 152h5v1h-5zM662 153h4v1h-4zM666 154h3v1h-3zM669 155h1v1h-1zM670 156h1v1h-1zM671 157h1v1h-1zM672 158h2v1h-2zM674 159h1v1h-1zM675 160h1v1h-1zM676 161h1v1h-1zM677 162h1v1h-1zM678 163h1v2h-1zM679 165h1v1h-1zM680 166h1v1h-1zM681 167h1v2h-1zM682 169h5v1h-5zM687 170h10v1h-10zM697 171h7v1h-7zM704 172h4v1h-4zM708 173h4v1h-4zM712 174h4v1h-4zM716 175h3v1h-3zM719 176h4v1h-4zM723 177h3v1h-3zM726 178h3v1h-3zM729 179h3v1h-3zM732 180h4v1h-4zM736 181h3v1h-3zM739 182h3v1h-3zM742 183h4v1h-4zM746 184h4v1h-4zM750 185h19v1h-19zM769 184h6v1h-6zM775 183h18v1h-18zM793 182h5v1h-5zM798 181h6v1h-6zM804 180h7v1h-7zM811 179h10v1h-10zM821 178h15v1h-15zM836 179h13v1h-13zM849 180h3v1h-3zM852 181h4v1h-4zM856 182h3v1h-3zM859 183h4v1h-4zM863 184h5v1h-5zM868 185h5v1h-5zM873 186h6v1h-6zM879 185h8v1h-8zM887 184h6v1h-6zM893 183h4v1h-4zM897 182h22v1h-22zM919 181h3v1h-3zM922 180h5v1h-5zM927 181h8v1h-8zM935 180h7v1h-7zM942 181h2v1h-2zM944 182h3v1h-3zM947 183h2v1h-2zM949 182h2v1h-2zM951 181h2v1h-2zM953 180h2v1h-2zM955 179h2v1h-2zM957 178h2v1h-2zM959 177h2v1h-2zM961 176h2v1h-2zM963 175h1v1h-1zM964 174h1v1h-1zM965 173h1v1h-1zM966 172h1v1h-1zM967 171h1v1h-1zM968 170h1v1h-1zM969 169h1v1h-1zM970 168h1v1h-1zM971 167h1v1h-1zM972 166h2v1h-2zM974 165h1v1h-1zM975 164h1v1h-1zM976 163h1v1h-1zM977 162h1v1h-1zM978 161h1v1h-1zM979 160h1v1h-1zM980 159h1v1h-1zM981 158h1v1h-1zM982 157h2v1h-2zM984 156h1v1h-1zM985 155h2v1h-2zM987 154h1v1h-1zM988 153h2v1h-2zM990 152h1v1h-1zM991 151h2v1h-2zM993 150h1v1h-1zM994 149h2v1h-2zM996 148h1v1h-1zM997 147h2v1h-2zM999 146h1v1h-1zM1000 145h2v1h-2zM1002 144h2v1h-2zM1004 143h1v1h-1zM1005 142h2v1h-2zM1007 141h2v1h-2zM1009 140h2v1h-2zM1011 139h7v1h-7zM1018 140h9v1h-9zM1027 141h4v1h-4zM1031 142h4v1h-4zM1035 143h4v1h-4zM1039 144h4v1h-4zM1043 145h4v1h-4zM1047 146h3v1h-3zM1050 147h4v1h-4zM1054 148h3v1h-3zM1057 149h2v1h-2zM1059 150h1v1h-1zM1060 151h1v1h-1zM1061 152h1v1h-1zM1062 153h1v1h-1zM1063 154h1v1h-1zM1064 155h1v1h-1zM1065 156h1v1h-1zM1066 157h1v2h-1zM1067 159h1v1h-1zM1068 160h1v1h-1zM1069 161h1v2h-1zM1070 163h1v1h-1zM1071 164h2v1h-2zM1073 165h1v1h-1zM1074 166h1v1h-1zM1075 167h2v1h-2zM1077 168h1v1h-1zM1078 169h1v1h-1zM1079 170h2v1h-2zM1081 171h1v1h-1zM1082 172h2v1h-2zM1084 173h1v1h-1zM1085 174h2v1h-2zM1087 175h1v1h-1zM1088 176h2v1h-2zM1090 177h1v1h-1zM1091 178h2v1h-2zM1093 179h1v1h-1zM1094 180h1v2h-1zM1095 182h1v1h-1zM1096 183h1v2h-1zM1097 185h1v2h-1zM1098 187h1v1h-1zM1099 188h1v2h-1zM1100 190h1v1h-1zM1101 191h1v2h-1zM1102 193h1v2h-1zM1103 195h1v2h-1zM1104 197h1v2h-1zM1105 199h1v2h-1zM1106 201h1v2h-1zM1107 203h1v2h-1zM1108 205h1v3h-1zM1109 208h1v2h-1zM1110 210h1v2h-1zM1111 212h1v2h-1zM1112 214h1v2h-1zM1113 216h1v2h-1zM1114 218h1v2h-1zM1115 220h1v1h-1zM1116 221h1v2h-1zM1117 223h1v2h-1zM1118 225h1v2h-1zM1119 227h1v1h-1zM1120 228h1v2h-1zM1121 230h1v1h-1zM1122 231h1v2h-1zM1123 233h1v1h-1zM1124 234h1v2h-1zM1125 236h1v1h-1zM1126 237h1v1h-1zM1127 238h1v1h-1zM1128 239h1v1h-1zM1129 240h1v1h-1zM1130 241h1v1h-1zM1131 242h1v1h-1zM1132 243h1v2h-1zM1133 245h1v1h-1zM1134 246h1v1h-1zM1135 247h1v1h-1zM1136 248h1v1h-1zM1137 249h1v1h-1zM1138 250h1v1h-1zM1139 251h1v1h-1zM1140 252h1v1h-1zM1141 253h1v2h-1zM1142 255h1v1h-1zM1143 256h1v1h-1zM1144 257h1v1h-1zM1145 258h1v1h-1zM1146 259h1v2h-1zM1147 261h1v1h-1zM1148 262h1v1h-1zM1149 263h1v2h-1zM1150 265h1v2h-1zM1151 267h1v1h-1zM1152 268h1v2h-1zM1153 270h1v1h-1zM1154 271h1v2h-1zM1155 273h1v2h-1zM1156 275h1v2h-1zM1157 277h1v2h-1zM1158 279h1v2h-1zM1159 281h1v2h-1zM1160 283h1v2h-1zM1161 285h1v2h-1zM1162 287h1v2h-1zM1163 289h1v2h-1zM1164 291h1v2h-1zM1165 293h1v2h-1zM1166 295h1v2h-1zM1167 297h1v2h-1zM1168 299h1v1h-1zM1169 300h1v2h-1zM1170 302h1v1h-1zM1171 303h1v1h-1zM1172 304h1v2h-1zM1173 306h1v1h-1zM1174 307h1v1h-1zM1175 308h1v2h-1zM1176 310h1v1h-1zM1177 311h1v1h-1zM1178 312h1v2h-1zM1179 314h1v1h-1zM1180 315h1v1h-1zM1181 316h1v2h-1zM1182 318h1v1h-1zM1183 319h1v1h-1zM1184 320h1v2h-1zM1185 322h1v1h-1zM1186 323h1v1h-1zM1187 324h1v2h-1zM1188 326h1v1h-1zM1189 327h1v1h-1zM1190 328h1v2h-1zM1191 330h1v1h-1zM1192 331h1v1h-1zM1193 332h1v2h-1zM1194 334h1v1h-1zM1195 335h1v1h-1zM1196 336h1v2h-1zM1197 338h1v1h-1zM1198 339h1v1h-1zM1199 340h1v2h-1zM1200 342h1v1h-1zM1201 343h1v1h-1zM1202 344h1v1h-1zM1203 345h1v1h-1zM1204 346h1v1h-1zM1205 347h1v1h-1zM1206 348h1v1h-1zM1207 349h1v1h-1zM1208 350h1v1h-1zM1209 351h1v1h-1zM1210 352h1v1h-1zM1211 353h1v1h-1zM1212 354h1v1h-1zM1213 355h2v1h-2zM1215 356h1v1h-1zM1216 357h2v1h-2zM1218 358h2v1h-2zM1220 359h1v1h-1zM1221 360h2v1h-2zM1223 361h1v1h-1zM1224 362h2v1h-2zM1226 363h2v1h-2zM1228 364h1v1h-1zM1229 365h2v1h-2zM1231 366h1v1h-1zM1232 367h1v1h-1zM1233 368h2v1h-2zM1235 369h1v1h-1zM1236 370h1v1h-1zM1237 371h2v1h-2zM1239 372h1v1h-1zM1240 373h1v1h-1zM1241 374h2v1h-2zM1243 375h1v1h-1zM1244 376h1v1h-1zM1245 377h1v1h-1zM1246 378h1v1h-1zM1247 379h1v1h-1zM1248 380h1v1h-1zM1249 381h1v1h-1zM1250 382h1v1h-1zM1251 383h1v1h-1zM1252 384h1v1h-1zM1253 385h1v1h-1zM1254 386h1v1h-1zM1255 387h1v1h-1zM1256 388h1v1h-1zM1257 389h2v1h-2zM1259 390h2v1h-2zM1261 391h1v1h-1zM1262 392h2v1h-2zM1264 393h2v1h-2zM1266 394h2v1h-2zM1268 395h2v1h-2zM1270 396h2v1h-2zM1272 397h2v1h-2zM1274 398h2v1h-2zM1276 399h2v1h-2zM1278 400h2v1h-2zM1280 401h1v1h-1zM1281 402h1v1h-1zM1282 403h1v1h-1zM1283 404h1v1h-1zM1284 405h1v1h-1zM1285 406h1v2h-1zM1286 408h1v2h-1zM1287 410h1v1h-1zM1288 411h1v2h-1zM1289 413h1v2h-1zM1290 415h1v1h-1zM1291 416h1v2h-1zM1292 418h1v2h-1zM1293 420h1v2h-1zM1294 422h1v2h-1zM1295 424h1v2h-1zM1296 426h1v2h-1zM1297 428h1v2h-1zM1298 430h1v3h-1zM1299 433h1v3h-1zM1300 436h1v4h-1zM1301 440h1v3h-1zM1302 443h1v3h-1zM1303 446h1v3h-1zM1304 449h1v4h-1zM1305 453h1v4h-1zM1306 457h1v3h-1zM1307 460h1v4h-1zM1308 464h1v3h-1zM1309 467h1v4h-1zM1310 471h1v4h-1zM1311 475h1v3h-1zM1312 478h1v4h-1zM1313 482h1v3h-1zM1314 485h1v4h-1zM1315 489h1v3h-1zM1316 492h1v4h-1zM1317 496h1v3h-1zM1318 499h1v4h-1zM1319 503h1v3h-1zM1320 506h1v4h-1zM1321 510h1v3h-1zM1322 513h1v3h-1zM1323 516h1v3h-1zM1324 519h1v3h-1zM1325 522h1v3h-1zM1326 525h1v4h-1zM1327 529h1v3h-1zM1328 532h1v3h-1zM1329 535h1v3h-1zM1330 538h1v3h-1zM1331 541h1v3h-1zM1332 544h1v2h-1zM1333 546h1v2h-1zM1334 548h1v2h-1zM1335 550h1v3h-1zM1336 553h1v2h-1zM1337 555h1v2h-1zM1338 557h1v2h-1zM1339 559h1v2h-1zM1340 561h1v1h-1zM1341 562h1v1h-1zM1342 563h1v2h-1zM1343 565h1v1h-1zM1344 566h1v1h-1zM1345 567h1v1h-1zM1346 568h1v1h-1zM1347 569h1v2h-1zM1348 571h1v1h-1zM1349 572h1v1h-1zM1350 573h1v1h-1z" fill="#3cb371" />
</g>
<rect x="0" y="515" width="1605" height="1" fill="#c0c0c0"/>
<rect x="4" y="121" width="1" height="10" fill="#000"/>
<rect x="2" y="127" width="5" height="1" fill="#000"/>
<rect x="12" y="127" width="1" height="6" fill="#000"/>
<rect x="10" y="127" width="5" height="4" fill="#000"/>
<rect x="20" y="129" width="1" height="4" fill="#000"/>
<rect x="18" y="130" width="5" height="1" fill="#000"/>
<rect x="28" y="128" width="1" height="4" fill="#000"/>
<rect x="26" y="129" width="5" height="2" fill="#000"/>
<rect x="36" y="129" width="1" height="7" fill="#000"/>
<rect x="34" y="129" width="5" height="4" fill="#000"/>
<rect x="44" y="122" width="1" height="15" fill="#000"/>
<rect x="42" y="127" width="5" height="6" fill="#000"/>
<rect x="43" y="128" width="3" height="4" fill="#fff"/>
<rect x="52" y="115" width="1" height="14" fill="#000"/>
<rect x="50" y="121" width="5" height="5" fill="#000"/>
<rect x="51" y="122" width="3" height="3" fill="#fff"/>
<rect x="60" y="115" width="1" height="10" fill="#000"/>
<rect x="58" y="116" width="5" height="5" fill="#000"/>
<rect x="59" y="117" width="3" height="3" fill="#fff"/>
<rect x="68" y="115" width="1" height="5" fill="#000"/>
<rect x="66" y="116" width="5" height="3" fill="#000"/>
<rect x="76" y="114" width="1" height="6" fill="#000"/>
<rect x="74" y="117" width="5" height="2" fill="#000"/>
<rect x="84" y="114" width="1" height="6" fill="#000"/>
<rect x="82" y="115" width="5" height="3" fill="#000"/>
<rect x="83" y="116" width="3" height="1" fill="#fff"/>
<rect x="92" y="109" width="1" height="8" fill="#000"/>
<rect x="90" y="110" width="5" height="6" fill="#000"/>
<rect x="91" y="111" width="3" height="4" fill="#fff"/>
<rect x="100" y="108" width="1" height="12" fill="#000"/>
<rect x="98" y="110" width="5" height="4" fill="#000"/>
<rect x="108" y="111" width="1" height="7" fill="#000"/>
<rect x="106" y="113" width="5" height="4" fill="#000"/>
<rect x="116" y="116" width="1" height="4" fill="#000"/>
<rect x="114" y="117" width="5" height="2" fill="#000"/>
<rect x="124" y="116" width="1" height="4" fill="#000"/>
<rect x="122" y="118" width="5" height="2" fill="#000"/>
<rect x="132" y="112" width="1" height="10" fill="#000"/>
<rect x="130" y="113" width="5" height="7" fill="#000"/>
<rect x="131" y="114" width="3" height="5" fill="#fff"/>
<rect x="140" y="109" width="1" height="10" fill="#000"/>
<rect x="138" y="110" width="5" height="3" fill="#000"/>
<rect x="139" y="111" width="3" height="1" fill="#fff"/>
<rect x="148" y="101" width="1" height="11" fill="#000"/>
<rect x="146" y="102" width="5" height="10" fill="#000"/>
<rect x="147" y="103" width="3" height="8" fill="#fff"/>
<rect x="156" y="94" width="1" height="9" fill="#000"/>
<rect x="154" y="96" width="5" height="6" fill="#000"/>
<rect x="155" y="97" width="3" height="4" fill="#fff"/>
<rect x="164" y="95" width="1" height="6" fill="#000"/>
<rect x="162" y="96" width="5" height="3" fill="#000"/>
<rect x="172" y="90" width="1" height="8" fill="#000"/>
<rect x="170" y="92" width="5" height="4" fill="#000"/>
<rect x="171" y="93" width="3" height="2" fill="#fff"/>
<rect x="180" y="86" width="1" height="8" fill="#000"/>
<rect x="178" y="88" width="5" height="4" fill="#000"/>
<rect x="179" y="89" width="3" height="2" fill="#fff"/>
<rect x="188" y="87" width="1" height="8" fill="#000"/>
<rect x="186" y="88" width="5" height="4" fill="#000"/>
<rect x="196" y="90" width="1" height="7" fill="#000"/>
<rect x="194" y="92" width="5" height="3" fill="#000"/>
<rect x="204" y="89" width="1" height="7" fill="#000"/>
<rect x="202" y="91" width="5" height="4" fill="#000"/>
<rect x="203" y="92" width="3" height="2" fill="#fff"/>
<rect x="212" y="89" width="1" height="6" fill="#000"/>
<rect x="210" y="91" width="5" height="2" fill="#000"/>
<rect x="220" y="91" width="1" height="3" fill="#000"/>
<rect x="218" y="91" width="5" height="3" fill="#000"/>
<rect x="228" y="91" width="1" height="6" fill="#000"/>
<rect x="226" y="93" width="5" height="3" fill="#000"/>
<rect x="236" y="91" width="1" height="13" fill="#000"/>
<rect x="234" y="95" width="5" height="7" fill="#000"/>
<rect x="244" y="100" width="1" height="5" fill="#000"/>
<rect x="242" y="101" width="5" height="4" fill="#000"/>
<rect x="252" y="101" width="1" height="6" fill="#000"/>
<rect x="250" y="104" width="5" height="2" fill="#000"/>
<rect x="260" y="104" width="1" height="3" fill="#000"/>
<rect x="258" y="104" width="5" height="2" fill="#000"/>
<rect x="268" y="104" width="1" height="5" fill="#000"/>
<rect x="266" y="104" width="5" height="1" fill="#000"/>
<rect x="276" y="104" width="1" height="7" fill="#000"/>
<rect x="274" y="105" width="5" height="1" fill="#000"/>
<rect x="284" y="92" width="1" height="23" fill="#000"/>
<rect x="282" y="94" width="5" height="12" fill="#000"/>
<rect x="283" y="95" width="3" height="10" fill="#fff"/>
<rect x="292" y="93" width="1" height="9" fill="#000"/>
<rect x="290" y="94" width="5" height="2" fill="#000"/>
<rect x="300" y="95" width="1" height="13" fill="#000"/>
<rect x="298" y="95" width="5" height="12" fill="#000"/>
<rect x="308" y="104" width="1" height="4" fill="#000"/>
<rect x="306" y="106" width="5" height="1" fill="#000"/>
<rect x="316" y="105" width="1" height="3" fill="#000"/>
<rect x="314" y="106" width="5" height="1" fill="#000"/>
<rect x="324" y="102" width="1" height="7" fill="#000"/>
<rect x="322" y="104" width="5" height="3" fill="#000"/>
<rect x="323" y="105" width="3" height="1" fill="#fff"/>
<rect x="332" y="99" width="1" height="15" fill="#000"/>
<rect x="330" y="104" width="5" height="6" fill="#000"/>
<rect x="340" y="106" width="1" height="21" fill="#000"/>
<rect x="338" y="109" width="5" height="11" fill="#000"/>
<rect x="348" y="119" width="1" height="14" fill="#000"/>
<rect x="346" y="120" width="5" height="10" fill="#000"/>
<rect x="356" y="127" width="1" height="4" fill="#000"/>
<rect x="354" y="127" width="5" height="3" fill="#000"/>
<rect x="355" y="128" width="3" height="1" fill="#fff"/>
<rect x="364" y="126" width="1" height="9" fill="#000"/>
<rect x="362" y="127" width="5" height="5" fill="#000"/>
<rect x="372" y="130" width="1" height="9" fill="#000"/>
<rect x="370" y="132" width="5" height="2" fill="#000"/>
<rect x="380" y="127" width="1" height="23" fill="#000"/>
<rect x="378" y="134" width="5" height="10" fill="#000"/>
<rect x="388" y="139" width="1" height="11" fill="#000"/>
<rect x="386" y="140" width="5" height="4" fill="#000"/>
<rect x="387" y="141" width="3" height="2" fill="#fff"/>
<rect x="396" y="138" width="1" height="5" fill="#000"/>
<rect x="394" y="140" width="5" height="1" fill="#000"/>
<rect x="404" y="138" width="1" height="4" fill="#000"/>
<rect x="402" y="140" width="5" height="1" fill="#000"/>
<rect x="412" y="136" width="1" height="4" fill="#000"/>
<rect x="410" y="136" width="5" height="4" fill="#000"/>
<rect x="411" y="137" width="3" height="2" fill="#fff"/>
<rect x="420" y="134" width="1" height="5" fill="#000"/>
<rect x="418" y="136" width="5" height="2" fill="#000"/>
<rect x="428" y="119" width="1" height="20" fill="#000"/>
<rect x="426" y="121" width="5" height="17" fill="#000"/>
<rect x="427" y="122" width="3" height="15" fill="#fff"/>
<rect x="436" y="112" width="1" height="16" fill="#000"/>
<rect x="434" y="117" width="5" height="5" fill="#000"/>
<rect x="435" y="118" width="3" height="3" fill="#fff"/>
<rect x="444" y="111" width="1" height="8" fill="#000"/>
<rect x="442" y="113" width="5" height="4" fill="#000"/>
<rect x="443" y="114" width="3" height="2" fill="#fff"/>
<rect x="452" y="118" width="1" height="5" fill="#000"/>
<rect x="450" y="120" width="5" height="3" fill="#000"/>
<rect x="451" y="121" width="3" height="1" fill="#fff"/>
<rect x="460" y="119" width="1" height="6" fill="#000"/>
<rect x="458" y="119" width="5" height="6" fill="#000"/>
<rect x="468" y="119" width="1" height="6" fill="#000"/>
<rect x="466" y="122" width="5" height="3" fill="#000"/>
<rect x="467" y="123" width="3" height="1" fill="#fff"/>
<rect x="476" y="122" width="1" height="17" fill="#000"/>
<rect x="474" y="122" width="5" height="12" fill="#000"/>
<rect x="484" y="125" width="1" height="14" fill="#000"/>
<rect x="482" y="127" width="5" height="6" fill="#000"/>
<rect x="483" y="128" width="3" height="4" fill="#fff"/>
<rect x="492" y="123" width="1" height="7" fill="#000"/>
<rect x="490" y="127" width="5" height="3" fill="#000"/>
<rect x="500" y="125" width="1" height="5" fill="#000"/>
<rect x="498" y="127" width="5" height="3" fill="#000"/>
<rect x="499" y="128" width="3" height="1" fill="#fff"/>
<rect x="508" y="122" width="1" height="9" fill="#000"/>
<rect x="506" y="123" width="5" height="4" fill="#000"/>
<rect x="507" y="124" width="3" height="2" fill="#fff"/>
<rect x="516" y="118" width="1" height="9" fill="#000"/>
<rect x="514" y="119" width="5" height="4" fill="#000"/>
<rect x="515" y="120" width="3" height="2" fill="#fff"/>
<rect x="524" y="107" width="1" height="15" fill="#000"/>
<rect x="522" y="115" width="5" height="4" fill="#000"/>
<rect x="523" y="116" width="3" height="2" fill="#fff"/>
<rect x="532" y="100" width="1" height="20" fill="#000"/>
<rect x="530" y="101" width="5" height="14" fill="#000"/>
<rect x="531" y="102" width="3" height="12" fill="#fff"/>
<rect x="540" y="100" width="1" height="8" fill="#000"/>
<rect x="538" y="101" width="5" height="5" fill="#000"/>
<rect x="548" y="104" width="1" height="4" fill="#000"/>
<rect x="546" y="105" width="5" height="1" fill="#000"/>
<rect x="556" y="103" width="1" height="5" fill="#000"/>
<rect x="554" y="105" width="5" height="3" fill="#000"/>
<rect x="564" y="106" width="1" height="7" fill="#000"/>
<rect x="562" y="108" width="5" height="3" fill="#000"/>
<rect x="572" y="108" width="1" height="19" fill="#000"/>
<rect x="570" y="110" width="5" height="15" fill="#000"/>
<rect x="580" y="120" width="1" height="12" fill="#000"/>
<rect x="578" y="124" width="5" height="6" fill="#000"/>
<rect x="588" y="125" width="1" height="10" fill="#000"/>
<rect x="586" y="129" width="5" height="2" fill="#000"/>
<rect x="596" y="130" width="1" height="6" fill="#000"/>
<rect x="594" y="131" width="5" height="1" fill="#000"/>
<rect x="604" y="126" width="1" height="8" fill="#000"/>
<rect x="602" y="127" width="5" height="5" fill="#000"/>
<rect x="603" y="128" width="3" height="3" fill="#fff"/>
<rect x="612" y="123" width="1" height="7" fill="#000"/>
<rect x="610" y="127" width="5" height="1" fill="#000"/>
<rect x="620" y="121" width="1" height="26" fill="#000"/>
<rect x="618" y="128" width="5" height="16" fill="#000"/>
<rect x="628" y="129" width="1" height="17" fill="#000"/>
<rect x="626" y="142" width="5" height="1" fill="#000"/>
<rect x="636" y="136" width="1" height="8" fill="#000"/>
<rect x="634" y="136" width="5" height="6" fill="#000"/>
<rect x="635" y="137" width="3" height="4" fill="#fff"/>
<rect x="644" y="136" width="1" height="4" fill="#000"/>
<rect x="642" y="136" width="5" height="2" fill="#000"/>
<rect x="652" y="135" width="1" height="9" fill="#000"/>
<rect x="650" y="138" width="5" height="4" fill="#000"/>
<rect x="660" y="135" width="1" height="12" fill="#000"/>
<rect x="658" y="141" width="5" height="5" fill="#000"/>
<rect x="668" y="129" width="1" height="17" fill="#000"/>
<rect x="666" y="139" width="5" height="6" fill="#000"/>
<rect x="667" y="140" width="3" height="4" fill="#fff"/>
<rect x="676" y="136" width="1" height="39" fill="#000"/>
<rect x="674" y="139" width="5" height="33" fill="#000"/>
<rect x="684" y="161" width="1" height="24" fill="#000"/>
<rect x="682" y="166" width="5" height="5" fill="#000"/>
<rect x="683" y="167" width="3" height="3" fill="#fff"/>
<rect x="692" y="160" width="1" height="5" fill="#000"/>
<rect x="690" y="162" width="5" height="3" fill="#000"/>
<rect x="691" y="163" width="3" height="1" fill="#fff"/>
<rect x="700" y="153" width="1" height="13" fill="#000"/>
<rect x="698" y="153" width="5" height="10" fill="#000"/>
<rect x="699" y="154" width="3" height="8" fill="#fff"/>
<rect x="708" y="148" width="1" height="13" fill="#000"/>
<rect x="706" y="153" width="5" height="8" fill="#000"/>
<rect x="716" y="160" width="1" height="17" fill="#000"/>
<rect x="714" y="161" width="5" height="8" fill="#000"/>
<rect x="724" y="165" width="1" height="16" fill="#000"/>
<rect x="722" y="168" width="5" height="11" fill="#000"/>
<rect x="732" y="156" width="1" height="24" fill="#000"/>
<rect x="730" y="170" width="5" height="8" fill="#000"/>
<rect x="731" y="171" width="3" height="6" fill="#fff"/>
<rect x="740" y="170" width="1" height="9" fill="#000"/>
<rect x="738" y="170" width="5" height="2" fill="#000"/>
<rect x="748" y="168" width="1" height="8" fill="#000"/>
<rect x="746" y="170" width="5" height="3" fill="#000"/>
<rect x="747" y="171" width="3" height="1" fill="#fff"/>
<rect x="756" y="161" width="1" height="10" fill="#000"/>
<rect x="754" y="163" width="5" height="8" fill="#000"/>
<rect x="755" y="164" width="3" height="6" fill="#fff"/>
<rect x="764" y="158" width="1" height="16" fill="#000"/>
<rect x="762" y="163" width="5" height="5" fill="#000"/>
<rect x="772" y="154" width="1" height="19" fill="#000"/>
<rect x="770" y="158" width="5" height="8" fill="#000"/>
<rect x="771" y="159" width="3" height="6" fill="#fff"/>
<rect x="780" y="150" width="1" height="15" fill="#000"/>
<rect x="778" y="158" width="5" height="2" fill="#000"/>
<rect x="788" y="155" width="1" height="7" fill="#000"/>
<rect x="786" y="157" width="5" height="3" fill="#000"/>
<rect x="787" y="158" width="3" height="1" fill="#fff"/>
<rect x="796" y="154" width="1" height="7" fill="#000"/>
<rect x="794" y="157" width="5" height="3" fill="#000"/>
<rect x="804" y="157" width="1" height="12" fill="#000"/>
<rect x="802" y="159" width="5" height="6" fill="#000"/>
<rect x="812" y="159" width="1" height="13" fill="#000"/>
<rect x="810" y="164" width="5" height="1" fill="#000"/>
<rect x="820" y="153" width="1" height="13" fill="#000"/>
<rect x="818" y="157" width="5" height="8" fill="#000"/>
<rect x="819" y="158" width="3" height="6" fill="#fff"/>
<rect x="828" y="142" width="1" height="21" fill="#000"/>
<rect x="826" y="143" width="5" height="14" fill="#000"/>
<rect x="827" y="144" width="3" height="12" fill="#fff"/>
<rect x="836" y="142" width="1" height="3" fill="#000"/>
<rect x="834" y="142" width="5" height="2" fill="#000"/>
<rect x="844" y="141" width="1" height="4" fill="#000"/>
<rect x="842" y="142" width="5" height="1" fill="#000"/>
<rect x="852" y="137" width="1" height="6" fill="#000"/>
<rect x="850" y="142" width="5" height="1" fill="#000"/>
<rect x="860" y="125" width="1" height="18" fill="#000"/>
<rect x="858" y="129" width="5" height="14" fill="#000"/>
<rect x="859" y="130" width="3" height="12" fill="#fff"/>
<rect x="868" y="124" width="1" height="11" fill="#000"/>
<rect x="866" y="127" width="5" height="2" fill="#000"/>
<rect x="876" y="120" width="1" height="10" fill="#000"/>
<rect x="874" y="122" width="5" height="5" fill="#000"/>
<rect x="875" y="123" width="3" height="3" fill="#fff"/>
<rect x="884" y="115" width="1" height="9" fill="#000"/>
<rect x="882" y="120" width="5" height="2" fill="#000"/>
<rect x="892" y="115" width="1" height="5" fill="#000"/>
<rect x="890" y="117" width="5" height="3" fill="#000"/>
<rect x="891" y="118" width="3" height="1" fill="#fff"/>
<rect x="900" y="113" width="1" height="8" fill="#000"/>
<rect x="898" y="113" width="5" height="5" fill="#000"/>
<rect x="899" y="114" width="3" height="3" fill="#fff"/>
<rect x="908" y="98" width="1" height="18" fill="#000"/>
<rect x="906" y="102" width="5" height="11" fill="#000"/>
<rect x="907" y="103" width="3" height="9" fill="#fff"/>
<rect x="916" y="91" width="1" height="18" fill="#000"/>
<rect x="914" y="98" width="5" height="5" fill="#000"/>
<rect x="915" y="99" width="3" height="3" fill="#fff"/>
<rect x="924" y="93" width="1" height="16" fill="#000"/>
<rect x="922" y="97" width="5" height="5" fill="#000"/>
<rect x="932" y="75" width="1" height="8" fill="#000"/>
<rect x="930" y="78" width="5" height="3" fill="#000"/>
<rect x="931" y="79" width="3" height="1" fill="#fff"/>
<rect x="940" y="70" width="1" height="18" fill="#000"/>
<rect x="938" y="78" width="5" height="5" fill="#000"/>
<rect x="948" y="48" width="1" height="49" fill="#000"/>
<rect x="946" y="51" width="5" height="32" fill="#000"/>
<rect x="947" y="52" width="3" height="30" fill="#fff"/>
<rect x="956" y="51" width="1" height="38" fill="#000"/>
<rect x="954" y="51" width="5" height="26" fill="#000"/>
<rect x="964" y="63" width="1" height="19" fill="#000"/>
<rect x="962" y="77" width="5" height="1" fill="#000"/>
<rect x="972" y="65" width="1" height="15" fill="#000"/>
<rect x="970" y="76" width="5" height="2" fill="#000"/>
<rect x="980" y="70" width="1" height="15" fill="#000"/>
<rect x="978" y="76" width="5" height="9" fill="#000"/>
<rect x="988" y="80" width="1" height="15" fill="#000"/>
<rect x="986" y="85" width="5" height="3" fill="#000"/>
<rect x="996" y="85" width="1" height="17" fill="#000"/>
<rect x="994" y="87" width="5" height="1" fill="#000"/>
<rect x="1004" y="83" width="1" height="17" fill="#000"/>
<rect x="1002" y="87" width="5" height="8" fill="#000"/>
<rect x="1012" y="93" width="1" height="32" fill="#000"/>
<rect x="1010" y="95" width="5" height="30" fill="#000"/>
<rect x="1020" y="120" width="1" height="17" fill="#000"/>
<rect x="1018" y="125" width="5" height="8" fill="#000"/>
<rect x="1028" y="127" width="1" height="14" fill="#000"/>
<rect x="1026" y="133" width="5" height="1" fill="#000"/>
<rect x="1036" y="127" width="1" height="9" fill="#000"/>
<rect x="1034" y="129" width="5" height="4" fill="#000"/>
<rect x="1035" y="130" width="3" height="2" fill="#fff"/>
<rect x="1044" y="123" width="1" height="32" fill="#000"/>
<rect x="1042" y="129" width="5" height="5" fill="#000"/>
<rect x="1052" y="112" width="1" height="23" fill="#000"/>
<rect x="1050" y="129" width="5" height="5" fill="#000"/>
<rect x="1051" y="130" width="3" height="3" fill="#fff"/>
<rect x="1060" y="116" width="1" height="23" fill="#000"/>
<rect x="1058" y="129" width="5" height="10" fill="#000"/>
<rect x="1068" y="138" width="1" height="25" fill="#000"/>
<rect x="1066" y="138" width="5" height="24" fill="#000"/>
<rect x="1076" y="155" width="1" height="7" fill="#000"/>
<rect x="1074" y="158" width="5" height="3" fill="#000"/>
<rect x="1075" y="159" width="3" height="1" fill="#fff"/>
<rect x="1084" y="149" width="1" height="11" fill="#000"/>
<rect x="1082" y="157" width="5" height="3" fill="#000"/>
<rect x="1083" y="158" width="3" height="1" fill="#fff"/>
<rect x="1092" y="155" width="1" height="14" fill="#000"/>
<rect x="1090" y="156" width="5" height="2" fill="#000"/>
<rect x="1100" y="155" width="1" height="32" fill="#000"/>
<rect x="1098" y="158" width="5" height="26" fill="#000"/>
<rect x="1108" y="178" width="1" height="60" fill="#000"/>
<rect x="1106" y="183" width="5" height="55" fill="#000"/>
<rect x="1116" y="208" width="1" height="44" fill="#000"/>
<rect x="1114" y="222" width="5" height="16" fill="#000"/>
<rect x="1115" y="223" width="3" height="14" fill="#fff"/>
<rect x="1124" y="216" width="1" height="20" fill="#000"/>
<rect x="1122" y="221" width="5" height="7" fill="#000"/>
<rect x="1132" y="228" width="1" height="19" fill="#000"/>
<rect x="1130" y="228" width="5" height="5" fill="#000"/>
<rect x="1140" y="220" width="1" height="19" fill="#000"/>
<rect x="1138" y="227" width="5" height="6" fill="#000"/>
<rect x="1139" y="228" width="3" height="4" fill="#fff"/>
<rect x="1148" y="213" width="1" height="35" fill="#000"/>
<rect x="1146" y="227" width="5" height="17" fill="#000"/>
<rect x="1156" y="241" width="1" height="36" fill="#000"/>
<rect x="1154" y="243" width="5" height="34" fill="#000"/>
<rect x="1164" y="275" width="1" height="39" fill="#000"/>
<rect x="1162" y="276" width="5" height="30" fill="#000"/>
<rect x="1172" y="272" width="1" height="9" fill="#000"/>
<rect x="1170" y="278" width="5" height="1" fill="#000"/>
<rect x="1180" y="277" width="1" height="34" fill="#000"/>
<rect x="1178" y="278" width="5" height="16" fill="#000"/>
<rect x="1188" y="285" width="1" height="28" fill="#000"/>
<rect x="1186" y="293" width="5" height="14" fill="#000"/>
<rect x="1196" y="285" width="1" height="34" fill="#000"/>
<rect x="1194" y="297" width="5" height="9" fill="#000"/>
<rect x="1195" y="298" width="3" height="7" fill="#fff"/>
<rect x="1204" y="294" width="1" height="37" fill="#000"/>
<rect x="1202" y="297" width="5" height="16" fill="#000"/>
<rect x="1212" y="305" width="1" height="30" fill="#000"/>
<rect x="1210" y="312" width="5" height="6" fill="#000"/>
<rect x="1220" y="313" width="1" height="13" fill="#000"/>
<rect x="1218" y="316" width="5" height="3" fill="#000"/>
<rect x="1219" y="317" width="3" height="1" fill="#fff"/>
<rect x="1228" y="314" width="1" height="13" fill="#000"/>
<rect x="1226" y="317" width="5" height="1" fill="#000"/>
<rect x="1236" y="316" width="1" height="22" fill="#000"/>
<rect x="1234" y="316" width="5" height="21" fill="#000"/>
<rect x="1244" y="323" width="1" height="46" fill="#000"/>
<rect x="1242" y="336" width="5" height="25" fill="#000"/>
<rect x="1252" y="360" width="1" height="31" fill="#000"/>
<rect x="1250" y="360" width="5" height="28" fill="#000"/>
<rect x="1260" y="359" width="1" height="29" fill="#000"/>
<rect x="1258" y="368" width="5" height="19" fill="#000"/>
<rect x="1259" y="369" width="3" height="17" fill="#fff"/>
<rect x="1268" y="357" width="1" height="23" fill="#000"/>
<rect x="1266" y="359" width="5" height="9" fill="#000"/>
<rect x="1267" y="360" width="3" height="7" fill="#fff"/>
<rect x="1276" y="355" width="1" height="9" fill="#000"/>
<rect x="1274" y="359" width="5" height="1" fill="#000"/>
<rect x="1284" y="358" width="1" height="29" fill="#000"/>
<rect x="1282" y="359" width="5" height="26" fill="#000"/>
<rect x="1292" y="372" width="1" height="58" fill="#000"/>
<rect x="1290" y="384" width="5" height="32" fill="#000"/>
<rect x="1300" y="415" width="1" height="50" fill="#000"/>
<rect x="1298" y="415" width="5" height="45" fill="#000"/>
<rect x="1308" y="458" width="1" height="92" fill="#000"/>
<rect x="1306" y="460" width="5" height="55" fill="#000"/>
<rect x="1316" y="497" width="1" height="18" fill="#000"/>
<rect x="1314" y="504" width="5" height="10" fill="#000"/>
<rect x="1315" y="505" width="3" height="8" fill="#fff"/>
<rect x="1324" y="500" width="1" height="42" fill="#000"/>
<rect x="1322" y="503" width="5" height="32" fill="#000"/>
<rect x="1332" y="504" width="1" height="39" fill="#000"/>
<rect x="1330" y="534" width="5" height="6" fill="#000"/>
<rect x="1340" y="510" width="1" height="33" fill="#000"/>
<rect x="1338" y="523" width="5" height="16" fill="#000"/>
<rect x="1339" y="524" width="3" height="14" fill="#fff"/>
<rect x="1348" y="451" width="1" height="76" fill="#000"/>
<rect x="1346" y="493" width="5" height="30" fill="#000"/>
<rect x="1347" y="494" width="3" height="28" fill="#fff"/>
<rect x="1356" y="479" width="1" height="59" fill="#000"/>
<rect x="1354" y="492" width="5" height="46" fill="#000"/>
<rect x="1364" y="522" width="1" height="27" fill="#000"/>
<rect x="1362" y="525" width="5" height="14" fill="#000"/>
<rect x="1372" y="499" width="1" height="44" fill="#000"/>
<rect x="1370" y="499" width="5" height="39" fill="#000"/>
<rect x="1371" y="500" width="3" height="37" fill="#fff"/>
<rect x="1380" y="432" width="1" height="74" fill="#000"/>
<rect x="1378" y="445" width="5" height="54" fill="#000"/>
<rect x="1379" y="446" width="3" height="52" fill="#fff"/>
<rect x="1388" y="434" width="1" height="41" fill="#000"/>
<rect x="1386" y="446" width="5" height="18" fill="#000"/>
<rect x="1396" y="411" width="1" height="62" fill="#000"/>
<rect x="1394" y="464" width="5" height="2" fill="#000"/>
<rect x="1404" y="462" width="1" height="57" fill="#000"/>
<rect x="1402" y="466" width="5" height="49" fill="#000"/>
<rect x="0" y="441" width="1600" height="1" fill="#ff0000"/>
<rect x="0" y="472" width="1600" height="1" fill="#ff4500"/>
<rect x="0" y="493" width="1501" height="1" fill="#32cd32"/>
<rect x="1501" y="493" width="7" height="1" fill="#ff0000"/>
<rect x="1585" y="493" width="15" height="1" fill="#32cd32"/>
<rect x="0" y="539" width="1600" height="1" fill="#0000ff"/>
<rect x="0" y="561" width="1600" height="1" fill="#0000ff"/>
<rect x="1269" y="489" width="152" height="8" fill="#00ee00"/>
<rect x="1600.5" y="439.5" width="4" height="4" fill="#fff" stroke="#ff0000" stroke-width="1"/>
<rect x="1600.5" y="470.5" width="4" height="4" fill="#fff" stroke="#ff4500" stroke-width="1"/>
<rect x="1600.5" y="491.5" width="4" height="4" fill="#fff" stroke="#32cd32" stroke-width="1"/>
<rect x="1600.5" y="537.5" width="4" height="4" fill="#fff" stroke="#0000ff" stroke-width="1"/>
<rect x="1600.5" y="559.5" width="4" height="4" fill="#fff" stroke="#0000ff" stroke-width="1"/>
<rect x="0" y="439" width="1" height="5" fill="#ff0000"/>
<rect x="0" y="470" width="1" height="5" fill="#ff4500"/>
<rect x="0" y="491" width="1" height="5" fill="#32cd32"/>
<rect x="0" y="537" width="1" height="5" fill="#0000ff"/>
<rect x="0" y="559" width="1" height="5" fill="#0000ff"/>
<rect x="1508.5" y="490.5" width="3" height="4" fill="#fff" stroke="#ff0000" stroke-width="1"/>
<rect x="1511.5" y="481.5" width="73" height="24" fill="#fff" stroke="#ff0000" stroke-width="1"/>
<polygon points="1405,22 1416,22 1410.5,27" fill="#c0c0c0"/>
</g>
<g fill="none" stroke="#ff0000" stroke-width="3.3" stroke-linejoin="round" stroke-linecap="round">
<polyline points="1233.8,316.5 1326.6,552.2 1344.5,459.4 1364.2,559.8 1385.3,420.5 1422.4,542.1"/>
<polyline points="1318.8,544.5 1326.6,552.2 1327.1,541.2"/>
<polyline points="1347.0,470.1 1344.5,459.4 1338.2,468.4"/>
<polyline points="1357.9,550.8 1364.2,559.8 1366.7,549.1"/>
<polyline points="1388.2,431.1 1385.3,420.5 1379.4,429.8"/>
<polyline points="1415.2,533.8 1422.4,542.1 1423.7,531.2"/>
</g>
<g shape-rendering="crispEdges">
<rect x="4" y="617" width="1" height="14" fill="#c0c0c0"/>
<rect x="12" y="617" width="1" height="13" fill="#c0c0c0"/>
<rect x="20" y="617" width="1" height="12" fill="#c0c0c0"/>
<rect x="28" y="617" width="1" height="11" fill="#c0c0c0"/>
<rect x="36" y="617" width="1" height="11" fill="#c0c0c0"/>
<rect x="44" y="617" width="1" height="10" fill="#c0c0c0"/>
<rect x="52" y="617" width="1" height="8" fill="#c0c0c0"/>
<rect x="60" y="617" width="1" height="6" fill="#c0c0c0"/>
<rect x="68" y="617" width="1" height="4" fill="#c0c0c0"/>
<rect x="76" y="617" width="1" height="3" fill="#c0c0c0"/>
<rect x="84" y="617" width="1" height="2" fill="#c0c0c0"/>
<rect x="92" y="617" width="1" height="1" fill="#c0c0c0"/>
<rect x="140" y="616" width="1" height="1" fill="#c0c0c0"/>
<rect x="148" y="614" width="1" height="3" fill="#c0c0c0"/>
<rect x="156" y="611" width="1" height="6" fill="#c0c0c0"/>
<rect x="164" y="609" width="1" height="8" fill="#c0c0c0"/>
<rect x="172" y="608" width="1" height="9" fill="#c0c0c0"/>
<rect x="180" y="607" width="1" height="10" fill="#c0c0c0"/>
<rect x="188" y="607" width="1" height="10" fill="#c0c0c0"/>
<rect x="196" y="607" width="1" height="10" fill="#c0c0c0"/>
<rect x="204" y="607" width="1" height="10" fill="#c0c0c0"/>
<rect x="212" y="607" width="1" height="10" fill="#c0c0c0"/>
<rect x="220" y="607" width="1" height="10" fill="#c0c0c0"/>
<rect x="228" y="607" width="1" height="10" fill="#c0c0c0"/>
<rect x="236" y="608" width="1" height="9" fill="#c0c0c0"/>
<rect x="244" y="610" width="1" height="7" fill="#c0c0c0"/>
<rect x="252" y="611" width="1" height="6" fill="#c0c0c0"/>
<rect x="260" y="613" width="1" height="4" fill="#c0c0c0"/>
<rect x="268" y="613" width="1" height="4" fill="#c0c0c0"/>
<rect x="276" y="613" width="1" height="4" fill="#c0c0c0"/>
<rect x="284" y="613" width="1" height="4" fill="#c0c0c0"/>
<rect x="292" y="613" width="1" height="4" fill="#c0c0c0"/>
<rect x="300" y="614" width="1" height="3" fill="#c0c0c0"/>
<rect x="308" y="615" width="1" height="2" fill="#c0c0c0"/>
<rect x="316" y="616" width="1" height="1" fill="#c0c0c0"/>
<rect x="324" y="616" width="1" height="1" fill="#c0c0c0"/>
<rect x="348" y="617" width="1" height="3" fill="#c0c0c0"/>
<rect x="356" y="617" width="1" height="5" fill="#c0c0c0"/>
<rect x="364" y="617" width="1" height="8" fill="#c0c0c0"/>
<rect x="372" y="617" width="1" height="9" fill="#c0c0c0"/>
<rect x="380" y="617" width="1" height="11" fill="#c0c0c0"/>
<rect x="388" y="617" width="1" height="13" fill="#c0c0c0"/>
<rect x="396" y="617" width="1" height="14" fill="#c0c0c0"/>
<rect x="404" y="617" width="1" height="15" fill="#c0c0c0"/>
<rect x="412" y="617" width="1" height="15" fill="#c0c0c0"/>
<rect x="420" y="617" width="1" height="14" fill="#c0c0c0"/>
<rect x="428" y="617" width="1" height="11" fill="#c0c0c0"/>
<rect x="436" y="617" width="1" height="9" fill="#c0c0c0"/>
<rect x="444" y="617" width="1" height="6" fill="#c0c0c0"/>
<rect x="452" y="617" width="1" height="5" fill="#c0c0c0"/>
<rect x="460" y="617" width="1" height="5" fill="#c0c0c0"/>
<rect x="468" y="617" width="1" height="5" fill="#c0c0c0"/>
<rect x="476" y="617" width="1" height="5" fill="#c0c0c0"/>
<rect x="484" y="617" width="1" height="5" fill="#c0c0c0"/>
<rect x="492" y="617" width="1" height="4" fill="#c0c0c0"/>
<rect x="500" y="617" width="1" height="3" fill="#c0c0c0"/>
<rect x="508" y="617" width="1" height="3" fill="#c0c0c0"/>
<rect x="516" y="617" width="1" height="2" fill="#c0c0c0"/>
<rect x="524" y="617" width="1" height="1" fill="#c0c0c0"/>
<rect x="532" y="617" width="1" height="1" fill="#c0c0c0"/>
<rect x="540" y="615" width="1" height="2" fill="#c0c0c0"/>
<rect x="548" y="614" width="1" height="3" fill="#c0c0c0"/>
<rect x="556" y="613" width="1" height="4" fill="#c0c0c0"/>
<rect x="564" y="613" width="1" height="4" fill="#c0c0c0"/>
<rect x="572" y="614" width="1" height="3" fill="#c0c0c0"/>
<rect x="580" y="616" width="1" height="1" fill="#c0c0c0"/>
<rect x="596" y="617" width="1" height="1" fill="#c0c0c0"/>
<rect x="604" y="617" width="1" height="2" fill="#c0c0c0"/>
<rect x="612" y="617" width="1" height="3" fill="#c0c0c0"/>
<rect x="620" y="617" width="1" height="4" fill="#c0c0c0"/>
<rect x="628" y="617" width="1" height="6" fill="#c0c0c0"/>
<rect x="636" y="617" width="1" height="6" fill="#c0c0c0"/>
<rect x="644" y="617" width="1" height="7" fill="#c0c0c0"/>
<rect x="652" y="617" width="1" height="8" fill="#c0c0c0"/>
<rect x="660" y="617" width="1" height="9" fill="#c0c0c0"/>
<rect x="668" y="617" width="1" height="9" fill="#c0c0c0"/>
<rect x="676" y="617" width="1" height="12" fill="#c0c0c0"/>
<rect x="684" y="617" width="1" height="14" fill="#c0c0c0"/>
<rect x="692" y="617" width="1" height="15" fill="#c0c0c0"/>
<rect x="700" y="617" width="1" height="15" fill="#c0c0c0"/>
<rect x="708" y="617" width="1" height="16" fill="#c0c0c0"/>
<rect x="716" y="617" width="1" height="17" fill="#c0c0c0"/>
<rect x="724" y="617" width="1" height="18" fill="#c0c0c0"/>
<rect x="732" y="617" width="1" height="19" fill="#c0c0c0"/>
<rect x="740" y="617" width="1" height="20" fill="#c0c0c0"/>
<rect x="748" y="617" width="1" height="19" fill="#c0c0c0"/>
<rect x="756" y="617" width="1" height="18" fill="#c0c0c0"/>
<rect x="764" y="617" width="1" height="17" fill="#c0c0c0"/>
<rect x="772" y="617" width="1" height="15" fill="#c0c0c0"/>
<rect x="780" y="617" width="1" height="14" fill="#c0c0c0"/>
<rect x="788" y="617" width="1" height="12" fill="#c0c0c0"/>
<rect x="796" y="617" width="1" height="11" fill="#c0c0c0"/>
<rect x="804" y="617" width="1" height="9" fill="#c0c0c0"/>
<rect x="812" y="617" width="1" height="9" fill="#c0c0c0"/>
<rect x="820" y="617" width="1" height="9" fill="#c0c0c0"/>
<rect x="828" y="617" width="1" height="6" fill="#c0c0c0"/>
<rect x="836" y="617" width="1" height="3" fill="#c0c0c0"/>
<rect x="844" y="617" width="1" height="1" fill="#c0c0c0"/>
<rect x="860" y="615" width="1" height="2" fill="#c0c0c0"/>
<rect x="868" y="612" width="1" height="5" fill="#c0c0c0"/>
<rect x="876" y="610" width="1" height="7" fill="#c0c0c0"/>
<rect x="884" y="608" width="1" height="9" fill="#c0c0c0"/>
<rect x="892" y="606" width="1" height="11" fill="#c0c0c0"/>
<rect x="900" y="604" width="1" height="13" fill="#c0c0c0"/>
<rect x="908" y="601" width="1" height="16" fill="#c0c0c0"/>
<rect x="916" y="599" width="1" height="18" fill="#c0c0c0"/>
<rect x="924" y="598" width="1" height="19" fill="#c0c0c0"/>
<rect x="932" y="594" width="1" height="23" fill="#c0c0c0"/>
<rect x="940" y="592" width="1" height="25" fill="#c0c0c0"/>
<rect x="948" y="587" width="1" height="30" fill="#c0c0c0"/>
<rect x="956" y="586" width="1" height="31" fill="#c0c0c0"/>
<rect x="964" y="586" width="1" height="31" fill="#c0c0c0"/>
<rect x="972" y="586" width="1" height="31" fill="#c0c0c0"/>
<rect x="980" y="587" width="1" height="30" fill="#c0c0c0"/>
<rect x="988" y="589" width="1" height="28" fill="#c0c0c0"/>
<rect x="996" y="591" width="1" height="26" fill="#c0c0c0"/>
<rect x="1004" y="594" width="1" height="23" fill="#c0c0c0"/>
<rect x="1012" y="600" width="1" height="17" fill="#c0c0c0"/>
<rect x="1020" y="607" width="1" height="10" fill="#c0c0c0"/>
<rect x="1028" y="611" width="1" height="6" fill="#c0c0c0"/>
<rect x="1036" y="615" width="1" height="2" fill="#c0c0c0"/>
<rect x="1052" y="617" width="1" height="2" fill="#c0c0c0"/>
<rect x="1060" y="617" width="1" height="5" fill="#c0c0c0"/>
<rect x="1068" y="617" width="1" height="10" fill="#c0c0c0"/>
<rect x="1076" y="617" width="1" height="13" fill="#c0c0c0"/>
<rect x="1084" y="617" width="1" height="15" fill="#c0c0c0"/>
<rect x="1092" y="617" width="1" height="17" fill="#c0c0c0"/>
<rect x="1100" y="617" width="1" height="21" fill="#c0c0c0"/>
<rect x="1108" y="617" width="1" height="31" fill="#c0c0c0"/>
<rect x="1116" y="617" width="1" height="37" fill="#c0c0c0"/>
<rect x="1124" y="617" width="1" height="42" fill="#c0c0c0"/>
<rect x="1132" y="617" width="1" height="46" fill="#c0c0c0"/>
<rect x="1140" y="617" width="1" height="48" fill="#c0c0c0"/>
<rect x="1148" y="617" width="1" height="50" fill="#c0c0c0"/>
<rect x="1156" y="617" width="1" height="56" fill="#c0c0c0"/>
<rect x="1164" y="617" width="1" height="63" fill="#c0c0c0"/>
<rect x="1172" y="617" width="1" height="66" fill="#c0c0c0"/>
<rect x="1180" y="617" width="1" height="68" fill="#c0c0c0"/>
<rect x="1188" y="617" width="1" height="70" fill="#c0c0c0"/>
<rect x="1196" y="617" width="1" height="72" fill="#c0c0c0"/>
<rect x="1204" y="617" width="1" height="73" fill="#c0c0c0"/>
<rect x="1212" y="617" width="1" height="73" fill="#c0c0c0"/>
<rect x="1220" y="617" width="1" height="73" fill="#c0c0c0"/>
<rect x="1228" y="617" width="1" height="73" fill="#c0c0c0"/>
<rect x="1236" y="617" width="1" height="74" fill="#c0c0c0"/>
<rect x="1244" y="617" width="1" height="76" fill="#c0c0c0"/>
<rect x="1252" y="617" width="1" height="80" fill="#c0c0c0"/>
<rect x="1260" y="617" width="1" height="81" fill="#c0c0c0"/>
<rect x="1268" y="617" width="1" height="79" fill="#c0c0c0"/>
<rect x="1276" y="617" width="1" height="78" fill="#c0c0c0"/>
<rect x="1284" y="617" width="1" height="78" fill="#c0c0c0"/>
<rect x="1292" y="617" width="1" height="82" fill="#c0c0c0"/>
<rect x="1300" y="617" width="1" height="88" fill="#c0c0c0"/>
<rect x="1308" y="617" width="1" height="100" fill="#c0c0c0"/>
<rect x="1316" y="617" width="1" height="107" fill="#c0c0c0"/>
<rect x="1324" y="617" width="1" height="114" fill="#c0c0c0"/>
<rect x="1332" y="617" width="1" height="120" fill="#c0c0c0"/>
<rect x="1340" y="617" width="1" height="121" fill="#c0c0c0"/>
<rect x="1348" y="617" width="1" height="117" fill="#c0c0c0"/>
<rect x="1356" y="617" width="1" height="116" fill="#c0c0c0"/>
<rect x="1364" y="617" width="1" height="114" fill="#c0c0c0"/>
<rect x="1372" y="617" width="1" height="108" fill="#c0c0c0"/>
<rect x="1380" y="617" width="1" height="95" fill="#c0c0c0"/>
<rect x="1388" y="617" width="1" height="87" fill="#c0c0c0"/>
<rect x="1396" y="617" width="1" height="79" fill="#c0c0c0"/>
<rect x="1404" y="617" width="1" height="78" fill="#c0c0c0"/>
<path d="M2 633h3v1h-3zM8 633h3v1h-3zM14 633h3v1h-3zM20 632h3v1h-3zM26 632h3v1h-3zM32 632h3v1h-3zM38 632h3v1h-3zM44 631h3v1h-3zM50 630h3v1h-3zM56 630h2v1h-2zM58 629h1v1h-1zM62 629h2v1h-2zM64 628h1v1h-1zM68 627h3v1h-3zM74 626h3v1h-3zM80 626h3v1h-3zM86 625h3v1h-3zM92 623h1v1h-1zM93 622h2v1h-2zM98 622h1v1h-1zM99 621h2v1h-2zM104 621h3v1h-3zM110 620h3v1h-3zM116 620h1v1h-1zM117 619h2v1h-2zM122 619h3v1h-3zM128 619h1v1h-1zM129 618h2v1h-2zM134 618h3v1h-3zM140 617h3v1h-3zM146 617h1v1h-1zM147 616h2v1h-2zM152 616h3v1h-3zM158 615h3v1h-3zM164 614h3v1h-3zM170 613h2v1h-2zM172 612h1v1h-1zM176 612h2v1h-2zM178 611h1v1h-1zM182 611h2v1h-2zM184 610h1v1h-1zM188 610h3v1h-3zM194 609h3v1h-3zM200 609h1v1h-1zM201 608h2v1h-2zM206 608h3v1h-3zM212 607h3v1h-3zM218 607h3v1h-3zM224 606h3v1h-3zM230 606h3v1h-3zM236 606h3v1h-3zM242 606h3v1h-3zM248 607h3v1h-3zM254 607h3v1h-3zM260 608h3v1h-3zM266 609h3v1h-3zM272 609h3v1h-3zM278 609h1v1h-1zM279 610h2v1h-2zM284 610h3v1h-3zM290 610h3v1h-3zM296 611h3v1h-3zM302 611h3v1h-3zM308 611h1v1h-1zM309 612h2v1h-2zM314 612h3v1h-3zM320 612h1v1h-1zM321 613h2v1h-2zM326 613h3v1h-3zM332 613h1v1h-1zM333 614h2v1h-2zM338 614h3v1h-3zM344 614h1v1h-1zM345 615h2v1h-2zM350 615h3v1h-3zM356 616h3v1h-3zM362 617h3v1h-3zM368 618h3v1h-3zM374 619h3v1h-3zM380 621h3v1h-3zM386 622h1v1h-1zM387 623h2v1h-2zM392 624h3v1h-3zM398 625h3v1h-3zM404 626h3v1h-3zM410 627h3v1h-3zM416 628h3v1h-3zM422 629h3v1h-3zM428 629h3v1h-3zM434 630h3v1h-3zM440 630h3v1h-3zM446 630h3v1h-3zM452 629h3v1h-3zM458 628h3v1h-3zM464 627h3v1h-3zM470 626h3v1h-3zM476 626h2v1h-2zM478 625h1v1h-1zM482 625h3v1h-3zM488 624h3v1h-3zM494 624h1v1h-1zM495 623h2v1h-2zM500 623h3v1h-3zM506 622h3v1h-3zM512 622h3v1h-3zM518 621h3v1h-3zM524 621h3v1h-3zM530 621h3v1h-3zM536 620h3v1h-3zM542 620h2v1h-2zM544 619h1v1h-1zM548 618h3v1h-3zM554 617h3v1h-3zM560 616h2v1h-2zM562 615h1v1h-1zM566 615h3v1h-3zM572 615h3v1h-3zM578 614h3v1h-3zM584 614h3v1h-3zM590 614h3v1h-3zM596 614h3v1h-3zM602 614h3v1h-3zM608 614h3v1h-3zM614 615h3v1h-3zM620 616h3v1h-3zM626 617h3v1h-3zM632 618h2v1h-2zM634 619h1v1h-1zM638 620h3v1h-3zM644 621h3v1h-3zM650 622h3v1h-3zM656 622h3v1h-3zM662 622h1v1h-1zM663 623h2v1h-2zM668 623h3v1h-3zM674 624h3v1h-3zM680 625h1v1h-1zM681 626h2v1h-2zM686 626h1v1h-1zM687 627h2v1h-2zM692 627h2v1h-2zM694 628h1v1h-1zM698 628h2v1h-2zM700 629h1v1h-1zM704 629h3v1h-3zM710 630h3v1h-3zM716 631h3v1h-3zM722 631h3v1h-3zM728 632h3v1h-3zM734 632h1v1h-1zM735 633h2v1h-2zM740 633h1v1h-1zM741 634h2v1h-2zM746 634h3v1h-3zM752 635h3v1h-3zM758 635h3v1h-3zM764 635h3v1h-3zM770 635h3v1h-3zM776 635h3v1h-3zM782 634h3v1h-3zM788 633h3v1h-3zM794 633h1v1h-1zM795 632h2v1h-2zM800 632h3v1h-3zM806 631h3v1h-3zM812 631h2v1h-2zM814 630h1v1h-1zM818 630h3v1h-3zM824 629h3v1h-3zM830 628h3v1h-3zM836 627h3v1h-3zM842 626h3v1h-3zM848 625h2v1h-2zM850 624h1v1h-1zM854 623h3v1h-3zM860 622h3v1h-3zM866 621h2v1h-2zM868 620h1v1h-1zM872 619h3v1h-3zM878 617h2v1h-2zM880 616h1v1h-1zM884 615h2v1h-2zM886 614h1v1h-1zM890 613h3v1h-3zM896 612h1v1h-1zM897 611h2v1h-2zM902 610h3v1h-3zM908 609h1v1h-1zM909 608h2v1h-2zM914 607h2v1h-2zM916 606h1v1h-1zM920 605h3v1h-3zM926 603h3v1h-3zM932 602h1v1h-1zM933 601h2v1h-2zM938 600h2v1h-2zM940 599h1v1h-1zM944 598h2v1h-2zM946 597h1v1h-1zM950 596h2v1h-2zM952 595h1v1h-1zM956 594h2v1h-2zM958 593h1v1h-1zM962 592h3v1h-3zM968 591h3v1h-3zM974 591h1v1h-1zM975 590h2v1h-2zM980 590h3v1h-3zM986 589h3v1h-3zM992 588h3v1h-3zM998 588h3v1h-3zM1004 588h3v1h-3zM1010 588h2v1h-2zM1012 589h1v1h-1zM1016 590h3v1h-3zM1022 591h3v1h-3zM1028 593h1v1h-1zM1029 594h2v1h-2zM1034 596h1v1h-1zM1035 597h2v1h-2zM1040 599h2v1h-2zM1042 600h1v1h-1zM1046 601h2v1h-2zM1048 602h1v1h-1zM1052 603h1v1h-1zM1053 604h2v1h-2zM1058 606h2v1h-2zM1060 607h1v1h-1zM1064 609h2v1h-2zM1066 610h1v1h-1zM1070 612h2v1h-2zM1072 613h1v1h-1zM1076 615h1v1h-1zM1077 616h2v1h-2zM1082 618h1v1h-1zM1083 619h2v1h-2zM1088 621h1v1h-1zM1089 622h2v1h-2zM1094 624h1v1h-1zM1095 625h2v1h-2zM1100 627h2v1h-2zM1102 628h1v1h-1zM1106 629h1v1h-1zM1107 630h2v1h-2zM1112 632h2v1h-2zM1114 633h1v1h-1zM1118 635h2v1h-2zM1120 636h1v1h-1zM1124 638h2v1h-2zM1126 639h1v1h-1zM1130 641h2v1h-2zM1132 642h1v1h-1zM1136 644h2v1h-2zM1138 645h1v1h-1zM1142 647h1v1h-1zM1143 648h2v1h-2zM1148 651h2v1h-2zM1150 652h1v1h-1zM1154 655h2v1h-2zM1156 656h1v1h-1zM1160 658h1v1h-1zM1161 659h2v1h-2zM1166 662h2v1h-2zM1168 663h1v1h-1zM1172 665h2v1h-2zM1174 666h1v1h-1zM1178 668h2v1h-2zM1180 669h1v1h-1zM1184 670h1v1h-1zM1185 671h2v1h-2zM1190 673h1v1h-1zM1191 674h2v1h-2zM1196 676h3v1h-3zM1202 678h2v1h-2zM1204 679h1v1h-1zM1208 680h2v1h-2zM1210 681h1v1h-1zM1214 682h1v1h-1zM1215 683h2v1h-2zM1220 684h2v1h-2zM1222 685h1v1h-1zM1226 686h3v1h-3zM1232 687h3v1h-3zM1238 687h1v1h-1zM1239 688h2v1h-2zM1244 688h2v1h-2zM1246 689h1v1h-1zM1250 689h2v1h-2zM1252 690h1v1h-1zM1256 690h2v1h-2zM1258 691h1v1h-1zM1262 691h3v1h-3zM1268 692h3v1h-3zM1274 693h3v1h-3zM1280 693h3v1h-3zM1286 693h3v1h-3zM1292 693h3v1h-3zM1298 695h2v1h-2zM1300 696h1v1h-1zM1304 697h1v1h-1zM1305 698h2v1h-2zM1310 700h2v1h-2zM1312 701h1v1h-1zM1316 702h2v1h-2zM1318 703h1v1h-1zM1322 705h2v1h-2zM1324 706h1v1h-1zM1328 709h2v1h-2zM1330 710h1v1h-1zM1334 712h1v1h-1zM1335 713h1v1h-1zM1336 714h1v1h-1zM1340 716h2v1h-2zM1342 717h1v1h-1zM1346 719h2v1h-2zM1348 720h1v1h-1zM1352 722h1v1h-1zM1353 723h2v1h-2zM1358 725h1v1h-1zM1359 726h2v1h-2zM1364 727h1v1h-1zM1365 728h2v1h-2zM1370 729h3v1h-3zM1376 730h1v1h-1zM1377 729h2v1h-2zM1382 728h2v1h-2zM1384 727h1v1h-1zM1388 726h2v1h-2zM1390 725h1v1h-1zM1394 723h3v1h-3zM1400 721h1v1h-1zM1401 720h2v1h-2z" fill="#ff0000" />
<line x1="0" y1="784.5" x2="1605" y2="784.5" stroke="#c0c0c0" stroke-width="1" stroke-dasharray="3 3" stroke-dashoffset="3"/>
<line x1="0" y1="835.5" x2="1605" y2="835.5" stroke="#c0c0c0" stroke-width="1" stroke-dasharray="3 3" stroke-dashoffset="3"/>
<line x1="0" y1="896.5" x2="1605" y2="896.5" stroke="#c0c0c0" stroke-width="1" stroke-dasharray="3 3" stroke-dashoffset="3"/>
<path d="M0 848h6v1h-6zM6 849h4v1h-4zM10 850h14v1h-14zM24 849h5v1h-5zM29 850h2v1h-2zM31 851h2v1h-2zM33 852h2v1h-2zM35 853h2v1h-2zM37 851h1v2h-1zM38 850h1v1h-1zM39 849h1v1h-1zM40 847h1v2h-1zM41 846h1v1h-1zM42 845h1v1h-1zM43 843h1v2h-1zM44 842h1v1h-1zM45 841h1v1h-1zM46 840h1v1h-1zM47 839h1v1h-1zM48 838h1v1h-1zM49 837h1v1h-1zM50 836h1v1h-1zM51 835h1v1h-1zM52 834h1v1h-1zM53 833h1v1h-1zM54 832h2v1h-2zM56 831h1v1h-1zM57 830h1v1h-1zM58 829h2v1h-2zM60 828h2v1h-2zM62 829h2v1h-2zM64 830h3v1h-3zM67 831h5v1h-5zM72 830h6v1h-6zM78 829h2v1h-2zM80 828h3v1h-3zM83 827h2v1h-2zM85 826h1v1h-1zM86 825h1v1h-1zM87 824h1v1h-1zM88 823h2v1h-2zM90 822h1v1h-1zM91 821h1v1h-1zM92 820h1v1h-1zM93 821h2v1h-2zM95 822h2v1h-2zM97 823h2v1h-2zM99 824h2v1h-2zM101 825h1v1h-1zM102 826h1v1h-1zM103 827h1v1h-1zM104 828h1v1h-1zM105 829h1v1h-1zM106 830h1v1h-1zM107 831h1v1h-1zM108 832h2v1h-2zM110 833h4v1h-4zM114 834h6v1h-6zM120 835h5v1h-5zM125 833h1v2h-1zM126 832h1v1h-1zM127 831h1v1h-1zM128 829h1v2h-1zM129 828h1v1h-1zM130 827h1v1h-1zM131 825h1v2h-1zM132 824h2v1h-2zM134 823h2v1h-2zM136 822h3v1h-3zM139 821h2v1h-2zM140 820h1v1h-1zM141 817h1v3h-1zM142 815h1v2h-1zM143 812h1v3h-1zM144 809h1v3h-1zM145 806h1v3h-1zM146 804h1v2h-1zM147 801h1v3h-1zM148 799h1v2h-1zM149 799h3v1h-3zM152 800h5v1h-5zM157 801h2v1h-2zM159 802h2v1h-2zM161 803h2v1h-2zM163 804h3v1h-3zM166 805h2v1h-2zM168 806h3v1h-3zM171 807h2v1h-2zM173 806h2v1h-2zM175 805h2v1h-2zM177 804h2v1h-2zM179 803h2v1h-2zM181 804h1v2h-1zM182 806h1v2h-1zM183 808h1v2h-1zM184 810h1v1h-1zM185 811h1v2h-1zM186 813h1v2h-1zM187 815h1v2h-1zM188 817h1v1h-1zM189 818h1v1h-1zM190 819h1v1h-1zM191 820h1v1h-1zM192 821h2v1h-2zM194 822h1v1h-1zM195 823h1v1h-1zM196 824h1v1h-1zM197 823h2v1h-2zM199 822h1v1h-1zM200 821h2v1h-2zM202 820h2v1h-2zM204 819h1v1h-1zM205 818h1v1h-1zM206 817h2v1h-2zM208 816h1v1h-1zM209 815h1v1h-1zM210 814h2v1h-2zM212 813h2v1h-2zM214 814h2v1h-2zM216 815h3v1h-3zM219 816h2v1h-2zM221 817h2v1h-2zM223 818h2v1h-2zM225 819h2v1h-2zM227 820h2v1h-2zM229 821h1v1h-1zM230 822h1v2h-1zM231 824h1v1h-1zM232 825h1v1h-1zM233 826h1v1h-1zM234 827h1v2h-1zM235 829h1v1h-1zM236 830h1v1h-1zM237 831h2v1h-2zM239 832h1v1h-1zM240 833h2v1h-2zM242 834h2v1h-2zM244 835h2v1h-2zM246 836h2v1h-2zM248 837h3v1h-3zM251 838h3v1h-3zM254 837h2v1h-2zM256 836h3v1h-3zM259 835h5v1h-5zM264 836h6v1h-6zM270 837h2v1h-2zM272 838h3v1h-3zM275 839h2v1h-2zM276 838h1v1h-1zM277 836h1v2h-1zM278 834h1v2h-1zM279 831h1v3h-1zM280 829h1v2h-1zM281 826h1v3h-1zM282 824h1v2h-1zM283 822h1v2h-1zM284 820h1v2h-1zM285 820h1v1h-1zM286 821h4v1h-4zM290 822h3v1h-3zM292 823h1v1h-1zM293 824h1v2h-1zM294 826h1v2h-1zM295 828h1v2h-1zM296 830h1v3h-1zM297 833h1v2h-1zM298 835h1v2h-1zM299 837h1v2h-1zM300 839h1v2h-1zM301 840h16v1h-16zM317 839h2v1h-2zM319 838h2v1h-2zM321 837h2v1h-2zM323 836h2v1h-2zM325 837h1v1h-1zM326 838h1v1h-1zM327 839h1v1h-1zM328 840h1v2h-1zM329 842h1v1h-1zM330 843h1v1h-1zM331 844h1v1h-1zM332 845h1v1h-1zM333 846h1v2h-1zM334 848h1v1h-1zM335 849h1v2h-1zM336 851h1v1h-1zM337 852h1v2h-1zM338 854h1v1h-1zM339 855h1v2h-1zM340 857h1v1h-1zM341 858h1v1h-1zM342 859h1v2h-1zM343 861h1v1h-1zM344 862h1v1h-1zM345 863h1v1h-1zM346 864h1v2h-1zM347 866h1v1h-1zM348 867h2v1h-2zM350 866h2v1h-2zM352 865h3v1h-3zM355 864h3v1h-3zM358 865h2v1h-2zM360 866h3v1h-3zM363 867h2v1h-2zM365 868h2v1h-2zM367 869h2v1h-2zM369 870h2v1h-2zM371 871h2v1h-2zM373 872h1v1h-1zM374 873h2v1h-2zM376 874h1v1h-1zM377 875h1v1h-1zM378 876h2v1h-2zM380 877h1v1h-1zM381 876h2v1h-2zM383 875h1v1h-1zM384 874h2v1h-2zM386 873h2v1h-2zM388 872h4v1h-4zM392 871h13v1h-13zM405 870h1v1h-1zM406 869h1v1h-1zM407 868h1v1h-1zM408 866h1v2h-1zM409 865h1v1h-1zM410 864h1v1h-1zM411 863h1v1h-1zM412 862h2v1h-2zM414 863h4v1h-4zM418 864h3v1h-3zM420 863h1v1h-1zM421 859h1v4h-1zM422 855h1v4h-1zM423 851h1v4h-1zM424 848h1v3h-1zM425 844h1v4h-1zM426 840h1v4h-1zM427 836h1v4h-1zM428 834h1v2h-1zM429 833h2v1h-2zM431 832h1v1h-1zM432 831h2v1h-2zM434 830h2v1h-2zM436 829h1v1h-1zM437 828h2v1h-2zM439 827h2v1h-2zM441 826h2v1h-2zM443 825h2v1h-2zM445 826h1v1h-1zM446 827h1v1h-1zM447 828h1v1h-1zM448 829h1v1h-1zM449 830h1v1h-1zM450 831h1v1h-1zM451 832h1v1h-1zM452 833h1v1h-1zM453 834h1v1h-1zM454 835h1v1h-1zM455 836h1v1h-1zM456 837h1v1h-1zM457 838h1v1h-1zM458 839h1v1h-1zM459 840h1v1h-1zM460 841h2v1h-2zM462 840h2v1h-2zM464 839h3v1h-3zM467 838h2v1h-2zM469 839h1v2h-1zM470 841h1v2h-1zM471 843h1v1h-1zM472 844h1v2h-1zM473 846h1v1h-1zM474 847h1v2h-1zM475 849h1v2h-1zM476 851h1v1h-1zM477 850h1v1h-1zM478 849h1v1h-1zM479 848h1v1h-1zM480 847h1v1h-1zM481 846h1v1h-1zM482 845h1v1h-1zM483 844h1v1h-1zM484 843h2v1h-2zM486 844h2v1h-2zM488 845h3v1h-3zM491 846h2v1h-2zM493 845h2v1h-2zM495 844h2v1h-2zM497 843h2v1h-2zM499 842h2v1h-2zM501 841h1v1h-1zM502 840h2v1h-2zM504 839h1v1h-1zM505 838h1v1h-1zM506 837h2v1h-2zM508 836h1v1h-1zM509 835h1v1h-1zM510 834h2v1h-2zM512 833h1v1h-1zM513 832h1v1h-1zM514 831h2v1h-2zM516 830h1v1h-1zM517 829h2v1h-2zM519 828h1v1h-1zM520 827h2v1h-2zM522 826h2v1h-2zM524 825h1v1h-1zM525 823h1v2h-1zM526 821h1v2h-1zM527 819h1v2h-1zM528 818h1v1h-1zM529 816h1v2h-1zM530 814h1v2h-1zM531 812h1v2h-1zM532 811h1v1h-1zM533 812h1v1h-1zM534 813h1v1h-1zM535 814h1v1h-1zM536 815h2v1h-2zM538 816h1v1h-1zM539 817h1v1h-1zM540 818h4v1h-4zM544 817h6v1h-6zM550 818h2v1h-2zM552 819h3v1h-3zM555 820h2v1h-2zM557 821h2v1h-2zM559 822h2v1h-2zM561 823h2v1h-2zM563 824h2v1h-2zM564 825h1v1h-1zM565 826h1v2h-1zM566 828h1v3h-1zM567 831h1v2h-1zM568 833h1v3h-1zM569 836h1v2h-1zM570 838h1v3h-1zM571 841h1v2h-1zM572 843h1v2h-1zM573 845h2v1h-2zM575 846h1v1h-1zM576 847h2v1h-2zM578 848h2v1h-2zM580 849h2v1h-2zM582 850h4v1h-4zM586 851h4v1h-4zM590 852h4v1h-4zM594 853h3v1h-3zM597 852h1v1h-1zM598 851h1v1h-1zM599 850h1v1h-1zM600 849h1v1h-1zM601 848h1v1h-1zM602 847h1v1h-1zM603 846h1v1h-1zM604 845h9v1h-9zM613 846h1v2h-1zM614 848h1v2h-1zM615 850h1v2h-1zM616 852h1v2h-1zM617 854h1v2h-1zM618 856h1v2h-1zM619 858h1v2h-1zM620 860h1v2h-1zM621 861h3v1h-3zM624 860h5v1h-5zM629 859h1v1h-1zM630 857h1v2h-1zM631 856h1v1h-1zM632 855h1v1h-1zM633 854h1v1h-1zM634 852h1v2h-1zM635 851h1v1h-1zM636 850h2v1h-2zM638 851h4v1h-4zM642 852h4v1h-4zM646 853h2v1h-2zM648 854h3v1h-3zM651 855h2v1h-2zM653 856h2v1h-2zM655 857h2v1h-2zM657 858h2v1h-2zM659 859h2v1h-2zM661 858h1v1h-1zM662 857h1v1h-1zM663 856h1v1h-1zM664 854h1v2h-1zM665 853h1v1h-1zM666 852h1v1h-1zM667 851h1v1h-1zM668 850h1v2h-1zM669 852h1v3h-1zM670 855h1v3h-1zM671 858h1v3h-1zM672 861h1v3h-1zM673 864h1v3h-1zM674 867h1v3h-1zM675 870h1v3h-1zM676 873h1v2h-1zM677 873h1v1h-1zM678 872h1v1h-1zM679 871h1v1h-1zM680 870h2v1h-2zM682 869h1v1h-1zM683 868h1v1h-1zM684 867h1v1h-1zM685 866h2v1h-2zM687 865h1v1h-1zM688 864h2v1h-2zM690 863h2v1h-2zM692 862h1v1h-1zM693 860h1v2h-1zM694 859h1v1h-1zM695 858h1v1h-1zM696 856h1v2h-1zM697 855h1v1h-1zM698 854h1v1h-1zM699 852h1v2h-1zM700 851h1v1h-1zM701 852h1v1h-1zM702 853h2v1h-2zM704 854h1v1h-1zM705 855h1v1h-1zM706 856h2v1h-2zM708 857h1v1h-1zM709 858h2v1h-2zM711 859h1v1h-1zM712 860h2v1h-2zM714 861h2v1h-2zM716 862h1v1h-1zM717 863h1v1h-1zM718 864h2v1h-2zM720 865h1v1h-1zM721 866h1v1h-1zM722 867h2v1h-2zM724 868h1v1h-1zM725 867h1v1h-1zM726 865h1v2h-1zM727 864h1v1h-1zM728 863h1v1h-1zM729 862h1v1h-1zM730 860h1v2h-1zM731 859h1v1h-1zM732 858h2v1h-2zM734 859h4v1h-4zM738 860h4v1h-4zM742 859h2v1h-2zM744 858h3v1h-3zM747 857h2v1h-2zM749 856h1v1h-1zM750 855h1v1h-1zM751 854h1v1h-1zM752 853h1v1h-1zM753 852h1v1h-1zM754 851h1v1h-1zM755 850h1v1h-1zM756 849h2v1h-2zM758 850h2v1h-2zM760 851h3v1h-3zM763 852h2v1h-2zM765 851h1v1h-1zM766 849h1v2h-1zM767 848h1v1h-1zM768 847h1v1h-1zM769 846h1v1h-1zM770 844h1v2h-1zM771 843h1v1h-1zM772 842h4v1h-4zM776 843h6v1h-6zM782 842h4v1h-4zM786 841h6v1h-6zM792 842h5v1h-5zM797 843h1v1h-1zM798 844h1v1h-1zM799 845h1v1h-1zM800 846h2v1h-2zM802 847h1v1h-1zM803 848h1v1h-1zM804 849h4v1h-4zM808 848h5v1h-5zM813 847h1v1h-1zM814 845h1v2h-1zM815 844h1v1h-1zM816 843h1v1h-1zM817 842h1v1h-1zM818 840h1v2h-1zM819 839h1v1h-1zM820 838h1v1h-1zM821 836h1v2h-1zM822 834h1v2h-1zM823 832h1v2h-1zM824 831h1v1h-1zM825 829h1v2h-1zM826 827h1v2h-1zM827 825h1v2h-1zM828 824h4v1h-4zM832 823h16v1h-16zM848 822h5v1h-5zM853 820h1v2h-1zM854 818h1v2h-1zM855 817h1v1h-1zM856 815h1v2h-1zM857 814h1v1h-1zM858 812h1v2h-1zM859 810h1v2h-1zM860 809h4v1h-4zM864 808h5v1h-5zM869 807h2v1h-2zM871 806h2v1h-2zM873 805h2v1h-2zM875 804h5v1h-5zM880 803h6v1h-6zM886 802h2v1h-2zM888 801h3v1h-3zM891 800h3v1h-3zM894 799h2v1h-2zM896 798h3v1h-3zM899 797h2v1h-2zM901 796h1v1h-1zM902 795h1v1h-1zM903 794h1v1h-1zM904 793h1v1h-1zM905 792h1v1h-1zM906 791h1v1h-1zM907 790h1v1h-1zM908 789h2v1h-2zM910 788h4v1h-4zM914 787h3v1h-3zM917 788h1v1h-1zM918 789h1v1h-1zM919 790h1v1h-1zM920 791h1v2h-1zM921 793h1v1h-1zM922 794h1v1h-1zM923 795h1v1h-1zM924 796h1v1h-1zM925 794h1v2h-1zM926 793h1v1h-1zM927 791h1v2h-1zM928 790h1v1h-1zM929 788h1v2h-1zM930 787h1v1h-1zM931 785h1v2h-1zM932 784h1v1h-1zM933 785h1v1h-1zM934 786h1v1h-1zM935 787h1v1h-1zM936 788h2v1h-2zM938 789h1v1h-1zM939 790h1v1h-1zM940 791h1v1h-1zM941 789h1v2h-1zM942 788h1v1h-1zM943 787h1v1h-1zM944 785h1v2h-1zM945 784h1v1h-1zM946 783h1v1h-1zM947 781h1v2h-1zM948 780h1v2h-1zM949 782h1v4h-1zM950 786h1v3h-1zM951 789h1v4h-1zM952 793h1v3h-1zM953 796h1v4h-1zM954 800h1v3h-1zM955 803h1v4h-1zM956 807h1v2h-1zM957 808h11v1h-11zM968 807h5v1h-5zM973 808h1v1h-1zM974 809h1v1h-1zM975 810h1v1h-1zM976 811h1v1h-1zM977 812h1v1h-1zM978 813h1v1h-1zM979 814h1v1h-1zM980 815h1v1h-1zM981 816h2v1h-2zM983 817h2v1h-2zM985 818h2v1h-2zM987 819h5v1h-5zM992 818h5v1h-5zM997 819h1v1h-1zM998 820h1v1h-1zM999 821h1v1h-1zM1000 822h2v1h-2zM1002 823h1v1h-1zM1003 824h1v1h-1zM1004 825h1v2h-1zM1005 827h1v3h-1zM1006 830h1v3h-1zM1007 833h1v3h-1zM1008 836h1v2h-1zM1009 838h1v3h-1zM1010 841h1v3h-1zM1011 844h1v3h-1zM1012 847h1v2h-1zM1013 849h2v1h-2zM1015 850h1v1h-1zM1016 851h2v1h-2zM1018 852h2v1h-2zM1020 853h9v1h-9zM1029 852h2v1h-2zM1031 851h2v1h-2zM1033 850h2v1h-2zM1035 849h2v1h-2zM1037 850h2v1h-2zM1039 851h2v1h-2zM1041 852h2v1h-2zM1043 853h2v1h-2zM1045 852h2v1h-2zM1047 851h1v1h-1zM1048 850h2v1h-2zM1050 849h2v1h-2zM1052 848h1v1h-1zM1053 849h2v1h-2zM1055 850h1v1h-1zM1056 851h2v1h-2zM1058 852h2v1h-2zM1060 853h1v1h-1zM1061 854h1v2h-1zM1062 856h1v2h-1zM1063 858h1v2h-1zM1064 860h1v1h-1zM1065 861h1v2h-1zM1066 863h1v2h-1zM1067 865h1v2h-1zM1068 867h1v1h-1zM1069 866h2v1h-2zM1071 865h2v1h-2zM1073 864h2v1h-2zM1075 863h3v1h-3zM1078 862h4v1h-4zM1082 861h6v1h-6zM1088 862h5v1h-5zM1093 863h1v2h-1zM1094 865h1v1h-1zM1095 866h1v2h-1zM1096 868h1v1h-1zM1097 869h1v2h-1zM1098 871h1v1h-1zM1099 872h1v2h-1zM1100 874h1v1h-1zM1101 875h1v2h-1zM1102 877h1v2h-1zM1103 879h1v2h-1zM1104 881h1v2h-1zM1105 883h1v2h-1zM1106 885h1v2h-1zM1107 887h1v2h-1zM1108 889h1v1h-1zM1109 887h1v2h-1zM1110 885h1v2h-1zM1111 884h1v1h-1zM1112 882h1v2h-1zM1113 881h1v1h-1zM1114 879h1v2h-1zM1115 877h1v2h-1zM1116 876h2v1h-2zM1118 877h4v1h-4zM1122 878h6v1h-6zM1128 879h5v1h-5zM1133 878h2v1h-2zM1135 877h1v1h-1zM1136 876h2v1h-2zM1138 875h2v1h-2zM1140 874h1v1h-1zM1141 875h2v1h-2zM1143 876h1v1h-1zM1144 877h2v1h-2zM1146 878h2v1h-2zM1148 879h1v1h-1zM1149 880h1v1h-1zM1150 881h2v1h-2zM1152 882h1v1h-1zM1153 883h1v1h-1zM1154 884h2v1h-2zM1156 885h1v1h-1zM1157 886h2v1h-2zM1159 887h2v1h-2zM1161 888h2v1h-2zM1163 889h2v1h-2zM1164 888h1v1h-1zM1165 886h1v2h-1zM1166 884h1v2h-1zM1167 882h1v2h-1zM1168 880h1v2h-1zM1169 878h1v2h-1zM1170 876h1v2h-1zM1171 874h1v2h-1zM1172 872h1v2h-1zM1173 873h2v1h-2zM1175 874h2v1h-2zM1177 875h2v1h-2zM1179 876h2v1h-2zM1181 877h2v1h-2zM1183 878h2v1h-2zM1185 879h2v1h-2zM1187 880h2v1h-2zM1189 879h1v1h-1zM1190 878h2v1h-2zM1192 877h1v1h-1zM1193 876h1v1h-1zM1194 875h2v1h-2zM1196 874h1v1h-1zM1197 875h2v1h-2zM1199 876h2v1h-2zM1201 877h2v1h-2zM1203 878h5v1h-5zM1208 879h6v1h-6zM1214 878h4v1h-4zM1218 877h6v1h-6zM1224 878h5v1h-5zM1229 879h2v1h-2zM1231 880h2v1h-2zM1233 881h2v1h-2zM1235 882h2v1h-2zM1237 883h2v1h-2zM1239 884h1v1h-1zM1240 885h2v1h-2zM1242 886h2v1h-2zM1244 887h1v1h-1zM1245 888h2v1h-2zM1247 889h1v1h-1zM1248 890h2v1h-2zM1250 891h2v1h-2zM1252 892h1v1h-1zM1253 890h1v2h-1zM1254 888h1v2h-1zM1255 887h1v1h-1zM1256 885h1v2h-1zM1257 884h1v1h-1zM1258 882h1v2h-1zM1259 880h1v2h-1zM1260 879h1v1h-1zM1261 878h1v1h-1zM1262 877h2v1h-2zM1264 876h1v1h-1zM1265 875h1v1h-1zM1266 874h2v1h-2zM1268 873h9v1h-9zM1277 874h2v1h-2zM1279 875h1v1h-1zM1280 876h2v1h-2zM1282 877h2v1h-2zM1284 878h1v1h-1zM1285 879h1v1h-1zM1286 880h2v1h-2zM1288 881h1v1h-1zM1289 882h1v1h-1zM1290 883h2v1h-2zM1292 884h1v1h-1zM1293 885h1v1h-1zM1294 886h1v1h-1zM1295 887h1v1h-1zM1296 888h2v1h-2zM1298 889h1v1h-1zM1299 890h1v1h-1zM1300 891h1v1h-1zM1301 892h1v1h-1zM1302 893h2v1h-2zM1304 894h1v1h-1zM1305 895h1v1h-1zM1306 896h2v1h-2zM1308 897h1v1h-1zM1309 896h2v1h-2zM1311 895h1v1h-1zM1312 894h2v1h-2zM1314 893h2v1h-2zM1316 892h2v1h-2zM1318 893h2v1h-2zM1320 894h3v1h-3zM1323 895h5v1h-5zM1328 896h5v1h-5zM1333 895h1v1h-1zM1334 894h1v1h-1zM1335 893h1v1h-1zM1336 891h1v2h-1zM1337 890h1v1h-1zM1338 889h1v1h-1zM1339 888h1v1h-1zM1340 886h1v2h-1zM1341 884h1v2h-1zM1342 882h1v2h-1zM1343 880h1v2h-1zM1344 878h1v2h-1zM1345 876h1v2h-1zM1346 874h1v2h-1zM1347 872h1v2h-1zM1348 870h1v2h-1zM1349 871h2v1h-2zM1351 872h1v1h-1zM1352 873h2v1h-2zM1354 874h2v1h-2zM1356 875h2v1h-2zM1358 876h2v1h-2zM1360 877h3v1h-3zM1363 878h2v1h-2zM1364 877h1v1h-1zM1365 875h1v2h-1zM1366 873h1v2h-1zM1367 871h1v2h-1zM1368 869h1v2h-1zM1369 867h1v2h-1zM1370 865h1v2h-1zM1371 863h1v2h-1zM1372 860h1v3h-1zM1373 858h1v2h-1zM1374 856h1v2h-1zM1375 854h1v2h-1zM1376 852h1v2h-1zM1377 850h1v2h-1zM1378 848h1v2h-1zM1379 846h1v2h-1zM1380 844h1v2h-1zM1381 845h2v1h-2zM1383 846h2v1h-2zM1385 847h2v1h-2zM1387 848h5v1h-5zM1392 849h5v1h-5zM1397 850h1v1h-1zM1398 851h1v1h-1zM1399 852h1v1h-1zM1400 853h1v2h-1zM1401 855h1v1h-1zM1402 856h1v1h-1zM1403 857h1v1h-1zM1404 858h1v1h-1z" fill="#1e90ff" />
</g>
<g font-family='"Liberation Sans", sans-serif' font-size="9.0" fill="#000" stroke="#000" stroke-width="0.14">
<rect x="1606" y="43" width="2" height="1" fill="#000" stroke="none" shape-rendering="crispEdges"/>
<text x="1610.6" y="46.4">1.32180</text>
<rect x="1606" y="77" width="2" height="1" fill="#000" stroke="none" shape-rendering="crispEdges"/>
<text x="1610.6" y="79.9">1.31010</text>
<rect x="1606" y="109" width="2" height="1" fill="#000" stroke="none" shape-rendering="crispEdges"/>
<text x="1610.6" y="112.5">1.29870</text>
<rect x="1606" y="143" width="2" height="1" fill="#000" stroke="none" shape-rendering="crispEdges"/>
<text x="1610.6" y="146.0">1.28700</text>
<rect x="1606" y="175" width="2" height="1" fill="#000" stroke="none" shape-rendering="crispEdges"/>
<text x="1610.6" y="178.7">1.27560</text>
<rect x="1606" y="208" width="2" height="1" fill="#000" stroke="none" shape-rendering="crispEdges"/>
<text x="1610.6" y="211.3">1.26420</text>
<rect x="1606" y="242" width="2" height="1" fill="#000" stroke="none" shape-rendering="crispEdges"/>
<text x="1610.6" y="244.8">1.25250</text>
<rect x="1606" y="274" width="2" height="1" fill="#000" stroke="none" shape-rendering="crispEdges"/>
<text x="1610.6" y="277.5">1.24110</text>
<rect x="1606" y="308" width="2" height="1" fill="#000" stroke="none" shape-rendering="crispEdges"/>
<text x="1610.6" y="311.0">1.22940</text>
<rect x="1606" y="340" width="2" height="1" fill="#000" stroke="none" shape-rendering="crispEdges"/>
<text x="1610.6" y="343.6">1.21800</text>
<rect x="1606" y="374" width="2" height="1" fill="#000" stroke="none" shape-rendering="crispEdges"/>
<text x="1610.6" y="377.1">1.20630</text>
<rect x="1606" y="407" width="2" height="1" fill="#000" stroke="none" shape-rendering="crispEdges"/>
<text x="1610.6" y="409.8">1.19490</text>
<rect x="1606" y="505" width="2" height="1" fill="#000" stroke="none" shape-rendering="crispEdges"/>
<text x="1610.6" y="508.6">1.16040</text>
<rect x="1606" y="571" width="2" height="1" fill="#000" stroke="none" shape-rendering="crispEdges"/>
<text x="1610.6" y="574.7">1.13730</text>
<rect x="1607" y="435" width="41" height="11" fill="#ff0000" stroke="none" shape-rendering="crispEdges"/>
<text x="1610.6" y="443.9" fill="#fff" stroke="#fff">1.18278</text>
<rect x="1607" y="466" width="41" height="11" fill="#ff4500" stroke="none" shape-rendering="crispEdges"/>
<text x="1610.6" y="474.9" fill="#fff" stroke="#fff">1.17197</text>
<rect x="1607" y="487" width="41" height="11" fill="#32cd32" stroke="none" shape-rendering="crispEdges"/>
<text x="1610.6" y="495.9" fill="#fff" stroke="#fff">1.16465</text>
<rect x="1607" y="510" width="41" height="11" fill="#000000" stroke="none" shape-rendering="crispEdges"/>
<text x="1610.6" y="518.9" fill="#fff" stroke="#fff">1.15684</text>
<rect x="1607" y="533" width="41" height="11" fill="#0000ff" stroke="none" shape-rendering="crispEdges"/>
<text x="1610.6" y="541.9" fill="#fff" stroke="#fff">1.14861</text>
<rect x="1607" y="555" width="41" height="11" fill="#0000ff" stroke="none" shape-rendering="crispEdges"/>
<text x="1610.6" y="563.9" fill="#fff" stroke="#fff">1.14093</text>
<rect x="1606" y="578" width="1" height="1" fill="#000" stroke="none" shape-rendering="crispEdges"/>
<text x="1609" y="586.7">0.008707</text>
<rect x="1606" y="617" width="2" height="1" fill="#000" stroke="none" shape-rendering="crispEdges"/>
<text x="1611" y="620.7">0.00</text>
<rect x="1606" y="745" width="1" height="1" fill="#000" stroke="none" shape-rendering="crispEdges"/>
<text x="1609" y="742.9">-0.028436</text>
<rect x="1606" y="750" width="1" height="1" fill="#000" stroke="none" shape-rendering="crispEdges"/>
<text x="1609" y="758.7">100</text>
<rect x="1606" y="784" width="2" height="1" fill="#000" stroke="none" shape-rendering="crispEdges"/>
<text x="1609" y="787.7">80</text>
<rect x="1606" y="835" width="2" height="1" fill="#000" stroke="none" shape-rendering="crispEdges"/>
<text x="1609" y="838.7">50</text>
<rect x="1606" y="896" width="2" height="1" fill="#000" stroke="none" shape-rendering="crispEdges"/>
<text x="1609" y="899.7">15</text>
<rect x="1606" y="921" width="1" height="1" fill="#000" stroke="none" shape-rendering="crispEdges"/>
<text x="1609" y="919.2">0</text>
<text x="0.3" y="588.5" textLength="154" lengthAdjust="spacingAndGlyphs">MACD(12,26,9) -0.017273 -0.022474</text>
<text x="0.3" y="760.5" textLength="68" lengthAdjust="spacingAndGlyphs">RSI(14) 36.0931</text>
<text x="10.9" y="33" textLength="57.5" lengthAdjust="spacingAndGlyphs">GBPUSD-,H4</text>
<text x="74" y="33" textLength="141.5" lengthAdjust="spacingAndGlyphs">1.17398 1.17531 1.15563 1.15684</text>
<polygon points="0,32 3.5,27.5 7,32" fill="#000" stroke="none"/>
<rect x="1404" y="923" width="1" height="3" fill="#000" stroke="none" shape-rendering="crispEdges"/>
<text x="1403" y="935" letter-spacing="0.15">20 Mar 16:00</text>
<rect x="1340" y="923" width="1" height="3" fill="#000" stroke="none" shape-rendering="crispEdges"/>
<text x="1339" y="935" letter-spacing="0.15">19 Mar 08:00</text>
<rect x="1276" y="923" width="1" height="3" fill="#000" stroke="none" shape-rendering="crispEdges"/>
<text x="1275" y="935" letter-spacing="0.15">18 Mar 00:00</text>
<rect x="1212" y="923" width="1" height="3" fill="#000" stroke="none" shape-rendering="crispEdges"/>
<text x="1211" y="935" letter-spacing="0.15">16 Mar 16:00</text>
<rect x="1148" y="923" width="1" height="3" fill="#000" stroke="none" shape-rendering="crispEdges"/>
<text x="1147" y="935" letter-spacing="0.15">13 Mar 08:00</text>
<rect x="1084" y="923" width="1" height="3" fill="#000" stroke="none" shape-rendering="crispEdges"/>
<text x="1083" y="935" letter-spacing="0.15">12 Mar 00:00</text>
<rect x="1020" y="923" width="1" height="3" fill="#000" stroke="none" shape-rendering="crispEdges"/>
<text x="1019" y="935" letter-spacing="0.15">10 Mar 16:00</text>
<rect x="956" y="923" width="1" height="3" fill="#000" stroke="none" shape-rendering="crispEdges"/>
<text x="955" y="935" letter-spacing="0.15">9 Mar 08:00</text>
<rect x="892" y="923" width="1" height="3" fill="#000" stroke="none" shape-rendering="crispEdges"/>
<text x="891" y="935" letter-spacing="0.15">6 Mar 00:00</text>
<rect x="828" y="923" width="1" height="3" fill="#000" stroke="none" shape-rendering="crispEdges"/>
<text x="827" y="935" letter-spacing="0.15">4 Mar 16:00</text>
<rect x="764" y="923" width="1" height="3" fill="#000" stroke="none" shape-rendering="crispEdges"/>
<text x="763" y="935" letter-spacing="0.15">3 Mar 08:00</text>
<rect x="700" y="923" width="1" height="3" fill="#000" stroke="none" shape-rendering="crispEdges"/>
<text x="699" y="935" letter-spacing="0.15">2 Mar 00:00</text>
<rect x="636" y="923" width="1" height="3" fill="#000" stroke="none" shape-rendering="crispEdges"/>
<text x="635" y="935" letter-spacing="0.15">27 Feb 16:00</text>
<rect x="572" y="923" width="1" height="3" fill="#000" stroke="none" shape-rendering="crispEdges"/>
<text x="571" y="935" letter-spacing="0.15">26 Feb 08:00</text>
<rect x="508" y="923" width="1" height="3" fill="#000" stroke="none" shape-rendering="crispEdges"/>
<text x="507" y="935" letter-spacing="0.15">25 Feb 00:00</text>
<rect x="444" y="923" width="1" height="3" fill="#000" stroke="none" shape-rendering="crispEdges"/>
<text x="443" y="935" letter-spacing="0.15">21 Feb 16:00</text>
<rect x="380" y="923" width="1" height="3" fill="#000" stroke="none" shape-rendering="crispEdges"/>
<text x="379" y="935" letter-spacing="0.15">20 Feb 08:00</text>
<rect x="316" y="923" width="1" height="3" fill="#000" stroke="none" shape-rendering="crispEdges"/>
<text x="315" y="935" letter-spacing="0.15">19 Feb 00:00</text>
<rect x="252" y="923" width="1" height="3" fill="#000" stroke="none" shape-rendering="crispEdges"/>
<text x="251" y="935" letter-spacing="0.15">17 Feb 16:00</text>
<rect x="188" y="923" width="1" height="3" fill="#000" stroke="none" shape-rendering="crispEdges"/>
<text x="187" y="935" letter-spacing="0.15">14 Feb 08:00</text>
<rect x="124" y="923" width="1" height="3" fill="#000" stroke="none" shape-rendering="crispEdges"/>
<text x="123" y="935" letter-spacing="0.15">13 Feb 00:00</text>
<rect x="60" y="923" width="1" height="3" fill="#000" stroke="none" shape-rendering="crispEdges"/>
<text x="59" y="935" letter-spacing="0.15">11 Feb 16:00</text>
<rect x="-4" y="923" width="1" height="3" fill="#000" stroke="none" shape-rendering="crispEdges"/>
<text x="-5" y="935" letter-spacing="0.15">10 Feb 2020</text>
</g>
<text x="1512.6" y="501" font-family='"Liberation Sans", sans-serif' font-size="19.5" fill="#ff0000">1.16465</text>
<g font-family='"Liberation Serif", "Noto Serif CJK SC", serif' font-weight="500" font-size="33.4" letter-spacing="-0.7">
<text x="1429.6" y="454.3" fill="#002000">多空转折点</text>
<text x="1428.6" y="453.3" fill="#00ff00">多空转折点</text>
</g>
<defs>
<linearGradient id="gt" x1="0" y1="0" x2="0" y2="1"><stop offset="0" stop-color="#fa5050"/><stop offset="1" stop-color="#df3535"/></linearGradient>
<linearGradient id="gb" x1="0" y1="0" x2="0" y2="1"><stop offset="0" stop-color="#dc3030"/><stop offset="0.55" stop-color="#c81818"/><stop offset="1" stop-color="#ae0000"/></linearGradient>
<linearGradient id="gs" x1="0" y1="0" x2="0" y2="1"><stop offset="0" stop-color="#f4f4f4"/><stop offset="0.45" stop-color="#e6e6e6"/><stop offset="0.5" stop-color="#d8d8d8"/><stop offset="1" stop-color="#cfcfcf"/></linearGradient>
</defs>
<g shape-rendering="crispEdges">
<rect x="0" y="40" width="220" height="67" fill="#fff"/>
<rect x="0" y="41" width="51" height="24" fill="url(#gt)"/>
<rect x="166" y="41" width="52" height="24" fill="url(#gt)"/>
<rect x="0" y="65" width="108" height="40" fill="url(#gb)"/>
<rect x="110" y="65" width="108" height="40" fill="url(#gb)"/>
<rect x="0" y="41" width="51" height="1" fill="#c82020"/>
<rect x="166" y="41" width="52" height="1" fill="#c82020"/>
<rect x="50" y="41" width="1" height="24" fill="#c82020"/>
<rect x="166" y="41" width="1" height="24" fill="#c82020"/>
<rect x="217" y="41" width="1" height="64" fill="#b01010"/>
<rect x="107" y="65" width="1" height="40" fill="#b01010"/>
<rect x="110" y="65" width="1" height="40" fill="#b01010"/>
<rect x="51" y="65" width="57" height="1" fill="#b81818"/>
<rect x="110" y="65" width="56" height="1" fill="#b81818"/>
<rect x="3" y="64" width="44" height="1" fill="#8a0000"/>
<rect x="3" y="65" width="44" height="1" fill="#ee6060"/>
<rect x="170" y="64" width="44" height="1" fill="#8a0000"/>
<rect x="170" y="65" width="44" height="1" fill="#ee6060"/>
<rect x="53.5" y="41.5" width="110" height="21" fill="#fff" stroke="#a9adb6"/>
<rect x="55" y="43" width="19" height="19" fill="url(#gs)"/>
<rect x="143" y="43" width="19" height="19" fill="url(#gs)"/>
<rect x="74" y="42" width="1" height="20" fill="#b4b8c0"/>
<rect x="142" y="42" width="1" height="20" fill="#b4b8c0"/>
</g>
<polygon points="61.2,50.2 66.4,50.2 63.8,53.2" fill="#4660c0"/>
<polygon points="149.8,53 155,53 152.4,50" fill="#4660c0"/>
<g font-family='"Liberation Sans", sans-serif' fill="#fff">
<text x="11" y="56.6" font-size="12.2" textLength="26" lengthAdjust="spacingAndGlyphs">SELL</text>
<text x="179.3" y="56.6" font-size="12.2" textLength="23.6" lengthAdjust="spacingAndGlyphs">BUY</text>
<text x="115.5" y="56" font-size="12.2" fill="#000" textLength="23.2" lengthAdjust="spacingAndGlyphs">1.00</text>
<text x="19" y="96" font-size="12" font-weight="700" textLength="23.5" lengthAdjust="spacingAndGlyphs">1.15</text>
<text x="129.4" y="96" font-size="12" font-weight="700" textLength="23.5" lengthAdjust="spacingAndGlyphs">1.15</text>
<text x="46.5" y="96.4" font-size="34.2" textLength="35" lengthAdjust="spacingAndGlyphs" stroke="#c81c1c" stroke-width="0.7">68</text>
<text x="156.5" y="96.4" font-size="34.2" textLength="35.5" lengthAdjust="spacingAndGlyphs" stroke="#c81c1c" stroke-width="0.7">72</text>
<text x="85.7" y="80" font-size="12" font-weight="700" stroke="#d02626" stroke-width="0.3">4</text>
<text x="196.6" y="80" font-size="12" font-weight="700" stroke="#d02626" stroke-width="0.3">6</text>
</g>
</svg>
</body></html>
